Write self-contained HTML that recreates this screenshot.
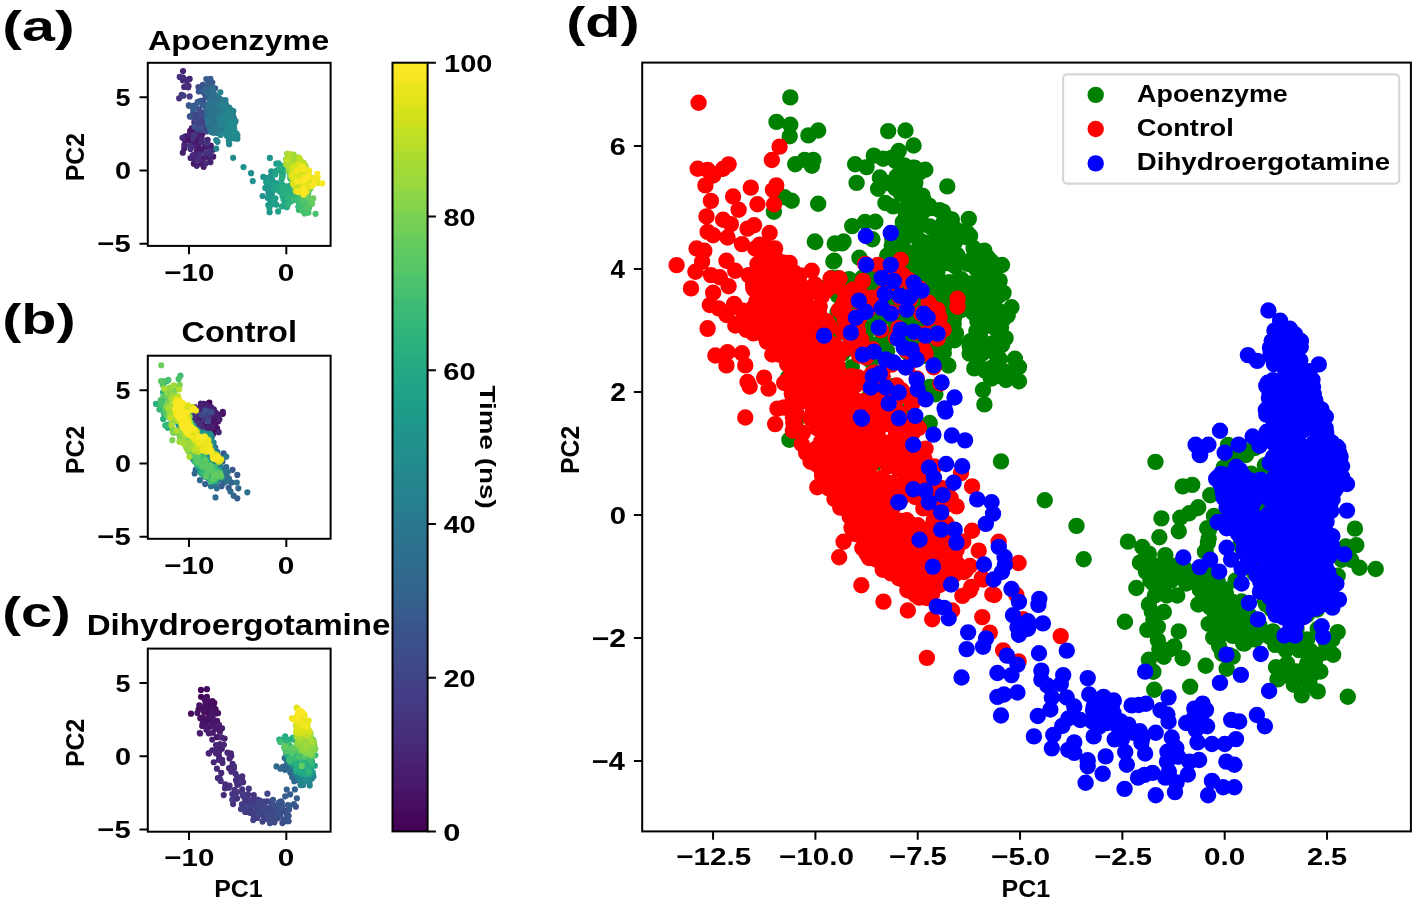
<!DOCTYPE html>
<html lang="en"><head><meta charset="utf-8"><title>PCA of MD trajectories</title>
<style>html,body{margin:0;padding:0;background:#fff}svg{display:block}text{font-family:"Liberation Sans",sans-serif;font-weight:bold;fill:#000}</style></head><body>
<svg width="1416" height="903" viewBox="0 0 1416 903" style="will-change:transform">
<rect width="1416" height="903" fill="#fff"/>
<g>
<path d="M197.33 121.01h0M207.44 127.2h0M201.02 119.34h0" stroke="#450457" stroke-width="6.2" stroke-linecap="round" fill="none"/>
<path d="M197.2 138.64h0M192 127.98h0M195.49 132.04h0M188.64 139.93h0" stroke="#471063" stroke-width="6.2" stroke-linecap="round" fill="none"/>
<path d="M191.65 141.96h0M198.3 147.65h0M193.82 163.71h0M195.42 141.51h0M202.23 133.93h0M190.17 130.86h0M185.14 140.99h0M212.96 149.66h0M201.9 150.11h0M207.82 147.75h0" stroke="#481668" stroke-width="6.2" stroke-linecap="round" fill="none"/>
<path d="M185.48 136.25h0M184.3 148.38h0M203.47 158.04h0M197.65 135.33h0M196.51 156.6h0M203.61 166.78h0M198.51 143.85h0M210.8 145.7h0M196.67 151.43h0M204.31 147.09h0M201.01 163.48h0M213.19 156.63h0" stroke="#481b6d" stroke-width="6.2" stroke-linecap="round" fill="none"/>
<path d="M182.8 152.64h0M196.77 165.79h0M195.5 124.25h0M210.43 162.13h0M208.56 157.52h0M189.66 134.31h0" stroke="#482071" stroke-width="6.2" stroke-linecap="round" fill="none"/>
<path d="M193.36 145.98h0M194.53 159.77h0M184.25 145.03h0M183.02 71.09h0M183.02 77.61h0M188.16 87.35h0M190.56 158h0M189.65 78.97h0M201.65 138.02h0M207.66 139.78h0M184.18 87h0" stroke="#482576" stroke-width="6.2" stroke-linecap="round" fill="none"/>
<path d="M210.37 154.49h0M192.84 155.06h0M182.88 80.35h0M187.32 80.14h0M201.95 141.83h0M197.58 130.84h0M194.28 122.19h0M205.03 113.66h0M205.81 163.25h0M182.47 137.81h0" stroke="#472a7a" stroke-width="6.2" stroke-linecap="round" fill="none"/>
<path d="M201.35 119.05h0M206.26 123.26h0M199.23 128.51h0M179.74 76.92h0M198.65 159.64h0M188.49 85.97h0M186.44 85.97h0M190.59 148.93h0M195.93 127.07h0M192.74 138.61h0M179.12 98.31h0M199.22 154.16h0M198.85 129.74h0" stroke="#472f7d" stroke-width="6.2" stroke-linecap="round" fill="none"/>
<path d="M201.78 112.76h0M200.44 130.28h0M200.88 126.07h0M189.98 145.5h0M194.04 135.47h0M207.32 143.55h0M201.67 122h0M209.66 151.04h0M205.18 153.29h0M193.48 109.98h0M198.4 125.48h0M205.43 129.59h0M188.96 105.53h0M197.17 123.9h0" stroke="#463480" stroke-width="6.2" stroke-linecap="round" fill="none"/>
<path d="M198.23 115.75h0M183.35 95.71h0M189.65 96.4h0M204.74 126.95h0M193.62 105.86h0M203.25 123h0M203.02 116.21h0M203.2 118.31h0M208.19 123.66h0M207.69 121.49h0M196.97 114.38h0M203.86 119.97h0" stroke="#443983" stroke-width="6.2" stroke-linecap="round" fill="none"/>
<path d="M195.34 105.86h0M203.8 124.71h0M181.64 94.88h0M190.2 116.48h0M192.94 114.1h0M205.13 118.33h0M199.28 117.9h0M194.87 116.12h0M199.63 119.88h0" stroke="#433e85" stroke-width="6.2" stroke-linecap="round" fill="none"/>
<path d="M198.14 121.72h0M200.09 123.07h0M194.28 114.08h0M206.04 131.52h0M206.43 127.39h0" stroke="#414287" stroke-width="6.2" stroke-linecap="round" fill="none"/>
<path d="M200.63 116.1h0M206.9 119.75h0M196.17 121.06h0M196.72 118.31h0M194.3 118.23h0M197.44 129.05h0M202.47 129.9h0" stroke="#3f4788" stroke-width="6.2" stroke-linecap="round" fill="none"/>
<path d="M208.18 126.11h0M200.18 114.03h0M198.43 87h0M199.45 109.29h0M206.94 115.57h0M203.23 100.72h0M201.16 87.69h0" stroke="#3e4c8a" stroke-width="6.2" stroke-linecap="round" fill="none"/>
<path d="M200.78 100.76h0M200.95 127.77h0M194.22 126.51h0M203.9 92.83h0M202.88 84.95h0" stroke="#3c508b" stroke-width="6.2" stroke-linecap="round" fill="none"/>
<path d="M209.06 93.61h0M205.63 96.24h0M205.11 85.69h0M198.79 91.45h0M208.8 83.85h0M215.12 88.33h0M189.9 116.47h0" stroke="#3a548c" stroke-width="6.2" stroke-linecap="round" fill="none"/>
<path d="M206.3 79.11h0M212.34 82.54h0M208.01 86.22h0M212.82 125.48h0M212.22 87.8h0M211.89 124.69h0M210.53 116.81h0M208.54 124.09h0M213.95 108.5h0M193.59 105.92h0M213.55 117.26h0M208.76 114.55h0M218.51 117.75h0" stroke="#38598c" stroke-width="6.2" stroke-linecap="round" fill="none"/>
<path d="M214.16 124.93h0M215.33 124.56h0M215.14 111.99h0M210.74 110.08h0M211.38 122.28h0M207.76 110.78h0M197.74 101.74h0M211.17 94.66h0M216.58 113.78h0M208.24 107.08h0M208.36 113.36h0M210.41 78.97h0M195.69 105.39h0M213.84 113.8h0M214.53 110.45h0M210.96 111.76h0M209.75 126.73h0M210.64 90.44h0M215.86 105.64h0M210.02 111.22h0M193.27 110.14h0M188.84 105.39h0M211.21 96.48h0M202.54 104.87h0M207.48 97.03h0M208.32 91.56h0M208 92.69h0M219.67 99.47h0" stroke="#365d8d" stroke-width="6.2" stroke-linecap="round" fill="none"/>
<path d="M210.11 87.28h0M206.67 111.88h0M208.09 109.48h0M211.97 93.01h0M211.57 98.54h0M213.44 98.97h0M207.22 85.43h0M217.96 124.03h0M211.93 107.99h0M215.41 116.61h0M208.15 122.21h0M212.75 91.5h0M208.27 89.91h0" stroke="#34618d" stroke-width="6.2" stroke-linecap="round" fill="none"/>
<path d="M212.55 87.81h0M213.83 127.45h0M219.81 126.41h0M206.63 117.63h0M208.43 124.83h0M206.16 91.5h0M204.32 90.18h0M211.89 89.84h0M214.45 94.48h0M210.75 131.69h0M220.22 100.96h0M213.89 94.79h0M215.7 129.27h0M210.37 125.98h0M207.66 113.87h0M209.09 112.15h0M214.53 126.17h0M206.64 110.17h0M208.24 116.32h0M207.14 106.39h0M212.95 111.67h0M212.96 112.03h0M217.93 107.91h0M214.4 98.48h0M213.88 105.16h0M216.08 108.41h0M211.09 120.87h0M210.51 111.54h0M210.21 113.64h0M212.53 112.22h0M217.67 130.39h0M213.09 108.6h0M218 119.17h0M210.09 113.16h0M211.82 112.32h0M209.84 129.22h0M220.42 115.36h0M215.33 96.72h0M209.96 94.22h0M209.94 108.99h0M214.32 120.76h0" stroke="#32658e" stroke-width="6.2" stroke-linecap="round" fill="none"/>
<path d="M211.52 93.28h0M207.55 112.17h0M209.32 125.53h0M209 93.27h0M210.2 120.85h0M218.28 104.65h0M212.18 108.15h0M213.12 97.55h0M216.04 96.87h0M212.51 125.59h0M208.85 111.14h0M216.87 115.8h0M220.06 101.97h0M210.49 98.89h0M212.63 119.46h0M215.03 108.61h0M209.77 100.8h0M214.94 130.28h0M219.43 100.92h0M210.35 126.32h0M207.38 114.65h0M211.58 129.7h0M206.53 116.64h0M216.27 120.7h0M208.77 120.06h0M212.2 111.51h0M210.69 111.32h0M213.23 122.09h0M213.45 96.87h0M217.33 108.12h0M209.58 102.34h0M211.71 100.55h0M210.56 98.06h0M209.32 109.82h0M214.65 95.28h0M207.29 104.88h0M206.06 108.74h0M209.66 127.85h0M209.74 127.17h0M211.4 100.18h0M219.56 121.49h0M209.75 119.52h0M207.17 113.05h0M208.96 118.85h0" stroke="#30698e" stroke-width="6.2" stroke-linecap="round" fill="none"/>
<path d="M210.42 124.12h0M211.27 125.73h0M209.27 124.59h0M212.83 103.45h0M220.85 104.54h0M210 101.48h0M215.34 118.51h0M218.18 115.36h0M213.27 99.24h0M218.43 104.31h0M218.54 125.52h0M213.78 99.79h0M210.39 127.39h0M212.8 117.07h0M212.73 126.63h0M212.71 122.39h0M212.91 128.91h0M216.52 114.74h0M211.85 131.12h0M207.73 124.11h0M215.14 132.64h0M212.03 129.79h0M212.58 101.5h0M215.06 112.37h0M216.43 125.88h0M210.69 118.6h0M211.83 128.64h0M214.08 123.7h0M216.47 97.46h0M211.2 96.44h0M218.33 122.14h0M221.68 115.9h0M215.84 107.15h0M230.21 115.38h0M218.13 116.36h0M228.85 113.29h0M209.09 122.82h0M213.65 132.71h0M219.09 124.83h0M217.59 132.46h0M213.71 89h0M216.18 101.8h0M217.92 125.39h0M218.64 107.9h0M213.91 99.9h0M219.52 131.88h0M210.11 118.8h0M221.46 104.35h0" stroke="#2e6d8e" stroke-width="6.2" stroke-linecap="round" fill="none"/>
<path d="M212.81 121.86h0M210.3 127.71h0M221.12 101.3h0M209.68 105.45h0M217.33 113.54h0M222.38 102.53h0M219.63 106.15h0M222.95 109.16h0M212.1 124.11h0M221.45 100.17h0M211.87 125.15h0M213.49 107.12h0M211.05 122.91h0M220.41 100.64h0M224.98 120.95h0M222.25 111.35h0M208.69 107.51h0M210.69 113.83h0M220.51 126.29h0M207.67 122.97h0M216.89 112.8h0M212.63 120.95h0M220.31 106.25h0M213.36 109.1h0M221.67 121.34h0M211.13 131.91h0M207.77 123.63h0M217.86 131.07h0M217.76 110.85h0M218.61 121.05h0M210.45 110.28h0M214.9 106.93h0M220.87 109.55h0M221.91 115.19h0M220.99 101.6h0M217.97 113.71h0M224.91 104.41h0M218.55 131.09h0M217.38 102.25h0M221.73 108.37h0M208.94 119.47h0M212.71 89.7h0M214.23 117.52h0" stroke="#2d718e" stroke-width="6.2" stroke-linecap="round" fill="none"/>
<path d="M214.34 112.44h0M218.52 97.95h0M219.57 130.57h0M215.28 107.75h0M222.6 102.88h0M218.06 112.34h0M212.9 114.28h0M217.32 119.12h0M217.79 119.18h0M212.94 118.69h0M225.76 104.07h0M214.7 128.35h0M215.09 109.51h0M215.85 115.83h0M214.03 116.63h0M216.82 111.47h0M217.29 115h0M225.48 116.74h0M229.58 116.68h0M229.94 109.16h0M216.32 116.45h0M220.78 115.11h0M221.08 120h0M214.43 131.4h0M232.25 125.09h0M223.71 121.73h0M217.17 108.74h0M222.72 108.63h0M227.09 111.78h0M229.05 113.62h0M222.55 114.92h0M221.82 110.87h0M218.72 119.35h0M219.35 98.3h0M223.72 114.39h0M219.42 106.76h0M220.31 99.8h0M216.9 108.56h0M217.43 127.74h0M213.06 125.29h0M222.54 118.84h0M222.43 127.28h0" stroke="#2b748e" stroke-width="6.2" stroke-linecap="round" fill="none"/>
<path d="M218.4 116.59h0M227.8 107.9h0M221.96 123.62h0M223.17 117.92h0M223.21 114.45h0M221.74 116.22h0M220.96 127.7h0M222.1 128.92h0M220.66 128.48h0M220.88 110.63h0M209.54 119.53h0M225.79 129.16h0M218.42 105.79h0M220.81 122.66h0M212.3 132.35h0M227.03 110.26h0M211.26 104.01h0M227.5 124.43h0M217.67 132.8h0M222.3 102.56h0M225.66 130.21h0M226.74 108.83h0M221.45 122.4h0M227.98 108.5h0M229.8 110.45h0M222.48 116.64h0M226.31 132.19h0M220.04 119.94h0M219.67 106.77h0M228.02 113.98h0M226.42 119.52h0M230.38 124.27h0M222.41 105h0M227.88 115.49h0M217.07 127.18h0M218.36 128.65h0M225.15 116.49h0" stroke="#2a788e" stroke-width="6.2" stroke-linecap="round" fill="none"/>
<path d="M230.73 115.46h0M225.26 103.49h0M223.68 103.04h0M226.6 106.94h0M231.83 121.19h0M218.47 126.9h0M226.09 129.11h0M227.25 111.75h0M220.79 125.39h0M232.62 118.3h0M223.33 117.12h0M233.81 123.77h0M218.94 118.7h0M221.88 124.95h0M229.18 107.57h0M233.14 125.81h0M232.4 134.24h0M233.72 117.64h0M228.52 122.26h0M222.11 116.38h0M231.44 113.09h0M225.11 110.72h0M229.56 131.12h0M225.47 100.02h0M229.12 108.83h0M226.27 130.61h0M226.8 111.02h0M227.27 126.73h0M229.48 130.6h0M232.59 133.02h0M223.05 116.7h0" stroke="#287c8e" stroke-width="6.2" stroke-linecap="round" fill="none"/>
<path d="M226.47 122.38h0M230 124.47h0M226.91 129.44h0M223.33 103.92h0M222.07 105.82h0M232.39 121.82h0M222.13 115.66h0M233.36 111h0M225.93 115.39h0M234.22 128.42h0M220.35 92.28h0M227.65 134.88h0M221.32 124.3h0M231.95 126.25h0M224.52 120.13h0M230.8 110.13h0M229.93 130.93h0M222.29 120.86h0M225.17 118.29h0M231.24 124.97h0M230.89 125.57h0M228.12 127.73h0M228.61 116.5h0" stroke="#27808e" stroke-width="6.2" stroke-linecap="round" fill="none"/>
<path d="M231.05 129.71h0M221.67 118.06h0M229.18 144.2h0M228.1 129.92h0M227.5 111.01h0M233.41 136.97h0M229.54 110.3h0M231.97 130.44h0M216.17 148.63h0M224.68 115.7h0M232.08 111.45h0M228.85 119.56h0M229.4 136.23h0M231.43 113.25h0M230.67 137.88h0M232.8 114.72h0M234.31 138.39h0M237.4 138.7h0M221.48 124.9h0M217.52 141.8h0M235.48 136.78h0M229.59 118.26h0M229.78 131.48h0M235.62 121.08h0" stroke="#25838e" stroke-width="6.2" stroke-linecap="round" fill="none"/>
<path d="M226.77 135.63h0M230.33 135.75h0M237.4 135.3h0M228.49 113.31h0M228.84 140.77h0M228.54 132.21h0M227.01 117.95h0M231.15 137.77h0M232.26 134.17h0M227.79 129.35h0M231.14 135.35h0M216.17 140.06h0M231.16 130.1h0M225.65 132.1h0M220.62 134.94h0M234.73 123h0M227.95 129.54h0M233.3 129.81h0" stroke="#24878e" stroke-width="6.2" stroke-linecap="round" fill="none"/>
<path d="M233.98 136.53h0M233.16 122.58h0M232.8 133.44h0M230.89 138.04h0M233.01 137.51h0M236.64 135.54h0M233.37 130.04h0M229.58 123.79h0M234.17 136.43h0M231.45 121.06h0M227.86 130.56h0M235.97 136.46h0M236.43 133.32h0M230.35 124.21h0M233.12 157.78h0" stroke="#228b8d" stroke-width="6.2" stroke-linecap="round" fill="none"/>
<path d="M243.54 167.04h0M251.08 173.14h0M252.79 181.1h0" stroke="#218f8d" stroke-width="6.2" stroke-linecap="round" fill="none"/>
<path d="M263.31 176.9h0M269.36 195.42h0M262.6 195.99h0M267.58 184.02h0M266.73 178.18h0" stroke="#20928c" stroke-width="6.2" stroke-linecap="round" fill="none"/>
<path d="M269.36 186.87h0M271.85 193.63h0M269 193.63h0M268.29 191.85h0M271.85 204.32h0M269.71 189.72h0M269.57 212.15h0M269.71 184.02h0M268.65 186.16h0M273.98 182.6h0M267.93 197.91h0M265.3 187.94h0M270.78 188.29h0M271.28 171.34h0M270.78 175.83h0M274.33 201.83h0M272.2 180.1h0M269.85 157.88h0M270.42 185.09h0" stroke="#1f968b" stroke-width="6.2" stroke-linecap="round" fill="none"/>
<path d="M266.16 181.88h0M270.78 202.54h0M268.29 179.75h0M271.49 182.6h0M267.44 180.82h0M270.42 197.2h0M272.56 189.72h0M270.42 200.4h0M272.91 184.38h0M277.89 170.13h0M276.82 183.31h0M268.29 205.03h0" stroke="#1f9a8a" stroke-width="6.2" stroke-linecap="round" fill="none"/>
<path d="M273.27 202.54h0M269.36 207.88h0M269 182.24h0M278.25 185.09h0M276.33 163.72h0M282.16 173.69h0M276.33 204.67h0M275.4 184.73h0" stroke="#1f9e89" stroke-width="6.2" stroke-linecap="round" fill="none"/>
<path d="M280.02 191.85h0M278.1 211.44h0M282.16 189.01h0M275.4 198.26h0M275.05 189.72h0M273.62 186.16h0M275.4 174.41h0M275.76 171.2h0M279.67 186.16h0M281.09 187.58h0M278.6 163.37h0M282.57 174.09h0M279.25 186.44h0M280.38 188.29h0" stroke="#1fa187" stroke-width="6.2" stroke-linecap="round" fill="none"/>
<path d="M285.71 203.61h0M280.02 168.71h0M288.2 199.33h0M286.6 189.28h0M283.93 193.99h0M277.18 186.87h0M281.8 179.03h0M283.58 196.13h0M282.51 184.73h0M282.87 165.86h0M282.51 176.19h0M285.36 191.14h0M286.42 188.29h0M281.62 179.32h0M288.91 186.16h0M284.65 189.36h0" stroke="#21a585" stroke-width="6.2" stroke-linecap="round" fill="none"/>
<path d="M287.49 203.96h0M285 201.83h0M285.36 198.98h0M289.56 171.91h0M292.37 178.18h0M291.73 173.02h0M289.76 172.83h0M293.64 183.01h0M295.42 185.21h0M292.34 175.1h0M290.48 178.48h0M281.09 190.43h0M287.85 192.57h0M283.58 199.69h0M292.74 178.54h0M281.8 206.45h0M283.76 170.77h0M290.45 173.33h0M286.78 207.17h0M287.13 190.79h0M292.67 173.17h0M296 180.13h0M282.51 196.48h0M286.42 196.84h0M289.44 193.56h0" stroke="#23a983" stroke-width="6.2" stroke-linecap="round" fill="none"/>
<path d="M293.18 199.69h0M282.87 192.57h0M283.93 186.87h0M279.97 168.87h0M283.28 187.39h0M284.65 186.16h0M286.07 194.7h0M295.42 185.61h0M295.71 176.68h0M294.14 184.95h0M289.62 198.98h0M287.49 197.55h0M288.91 195.42h0M293.88 174.57h0M291.84 175.18h0M292.14 172.69h0M295.5 178.75h0M292.33 172.51h0M292.27 176.05h0M290.69 201.11h0M292.18 177.82h0" stroke="#26ad81" stroke-width="6.2" stroke-linecap="round" fill="none"/>
<path d="M292.47 194.7h0M290.33 191.14h0M290.59 175.1h0M291.4 197.55h0M297.85 177.45h0M282.34 177.18h0M291.06 201.15h0M289.27 193.28h0M293.5 180.76h0M294.72 181.98h0M297.8 198.26h0M291.76 196.13h0M292.55 178.33h0M293.03 177.9h0M288.02 191.18h0M293.89 198.26h0" stroke="#2ab07f" stroke-width="6.2" stroke-linecap="round" fill="none"/>
<path d="M288.21 204.32h0M294.6 196.84h0M294.57 173.87h0M296.02 198.98h0M295.1 177.78h0M288.85 197.67h0M298.51 206.81h0M298.87 209.66h0M291.71 176.49h0M294.84 175.97h0M293.93 175.89h0M292.23 180.61h0M295.06 186.56h0M298.33 201.47h0" stroke="#2fb47c" stroke-width="6.2" stroke-linecap="round" fill="none"/>
<path d="M293.86 180.55h0M292.78 182.36h0M296.05 177.62h0M293.59 175.41h0M296.59 178.09h0M297.87 185.94h0M299.41 176.78h0M301.18 205.9h0M298.65 206.85h0M295.71 179.83h0M297.76 180.48h0M293.84 173.9h0M297.1 186.6h0M300.28 179.64h0" stroke="#35b779" stroke-width="6.2" stroke-linecap="round" fill="none"/>
<path d="M297.92 190.32h0M298.96 209.7h0M297.26 183.47h0M292.44 176.93h0M300.23 200.2h0M305.29 209.39h0M293.59 200.2h0M296.14 176.17h0M296.27 186.71h0M299.96 186.73h0M305.88 194.36h0M297.74 190.9h0M304.6 192.21h0M291.95 177.47h0M304.07 195.36h0M292.63 182.2h0M296.12 191.8h0M298.36 193.13h0M300.86 202.74h0M298.34 178.22h0M297.07 199.57h0M297.52 193.05h0" stroke="#3bbb75" stroke-width="6.2" stroke-linecap="round" fill="none"/>
<path d="M295.58 187.04h0M303.2 195.6h0M296.05 185.03h0M296.29 178.32h0M296.33 190.12h0M296.55 189.99h0M293.24 184.05h0M305.92 200.2h0M306.55 210.97h0M306.55 202.74h0M305.68 193.55h0M300.61 177.69h0M299.97 193.8h0M301.49 208.75h0M304.02 202.74h0M302.68 192.38h0M296.19 178.47h0M306.61 181.02h0M297.42 181.43h0M305.35 194.54h0M297.76 184.76h0M296.05 187.01h0M297.6 177.75h0M303.39 207.8h0M300.4 183.98h0M302.24 191.3h0" stroke="#42be71" stroke-width="6.2" stroke-linecap="round" fill="none"/>
<path d="M299.65 177.54h0M301.02 179.4h0M300.25 191.68h0M297.63 186.93h0M308.45 212.55h0M302.76 210.97h0M308.25 193.07h0M295.63 184.49h0M301.57 173.18h0M304.42 184.8h0M307.81 205.27h0M300.01 183.89h0M300.94 190.62h0M303.38 193.24h0M305.92 205.9h0M297.04 188.1h0M303.31 180.18h0M304.65 213.5h0M295.41 188.83h0M302.14 183.92h0M299.73 193.19h0M309.08 207.8h0M301.95 191.17h0M315.59 213.82h0M302.75 191.87h0M298.02 192h0M299.79 190.34h0M296.25 176.32h0M302.31 196.55h0" stroke="#4ac16d" stroke-width="6.2" stroke-linecap="round" fill="none"/>
<path d="M302.25 183.69h0M301.03 188.64h0M303.39 197.67h0M292.21 178.41h0M301.79 192.5h0M298.94 190.23h0M299.61 188.31h0M311.92 200.2h0M302.47 187.99h0M301.18 184.25h0M300.79 181.15h0M303.86 184.45h0M299.59 188.66h0M300.76 182.23h0M307.18 208.44h0M301.54 179.61h0M302.44 200.84h0M303.74 179.36h0M299.03 193.12h0" stroke="#52c569" stroke-width="6.2" stroke-linecap="round" fill="none"/>
<path d="M297.78 190.24h0M294.68 179.9h0M310.34 200.84h0M302.44 193.81h0M290.16 177.06h0M309.71 203.37h0M302.54 185.2h0M293.16 182.68h0M309.87 188.97h0M290.02 170.29h0M293.14 178.1h0M296.56 191.94h0M305.79 189.73h0" stroke="#5ac864" stroke-width="6.2" stroke-linecap="round" fill="none"/>
<path d="M302.51 190.87h0M300.51 184.88h0M302.95 191.61h0M301.46 186.94h0M302.8 194.57h0M303.52 194.05h0M296.97 188.24h0M308.61 190.39h0M297.1 186.82h0M306.26 188.05h0M294.92 180.89h0M306.52 178.47h0M294.2 170.9h0M293.93 178.9h0M312.11 203.81h0M300.21 182.9h0M293.38 175.78h0M295.25 180.32h0M301.3 191.98h0M308.74 185.89h0M308.45 197.67h0M303.84 184.87h0M302.97 171.36h0M301.85 188.61h0M298.27 182.75h0M302.28 178.47h0M306.01 170.11h0M308.32 177.88h0" stroke="#63cb5f" stroke-width="6.2" stroke-linecap="round" fill="none"/>
<path d="M292.77 175.02h0M293.02 173.81h0M296.77 178.18h0M301.2 173h0M290.14 171.3h0M291.42 174.98h0M302.61 185.24h0M313.19 198.43h0M298.94 171.62h0M302.79 183.92h0M310.41 184.61h0M292.28 181.69h0M298.08 182.71h0M306.91 172h0M294.34 169.33h0M295.25 178.91h0" stroke="#6ccd5a" stroke-width="6.2" stroke-linecap="round" fill="none"/>
<path d="M305.71 166.91h0M301.41 177.31h0M297.46 173.07h0M308.1 177.73h0M299.45 178.31h0M287.59 163.17h0M288.75 171.56h0M309.16 179.26h0M310.63 187.9h0M297.59 180.35h0M294.92 175.68h0M300.58 181.56h0M289.64 167.37h0" stroke="#75d054" stroke-width="6.2" stroke-linecap="round" fill="none"/>
<path d="M301.66 165.32h0M289.68 167.48h0M286.06 159.27h0M308.62 175.64h0M305.25 172.79h0M298.29 187.42h0M305.5 184.12h0M290.63 169.84h0M288.49 170.97h0M292.91 166h0M307.18 170.66h0M310.38 184.69h0" stroke="#7fd34e" stroke-width="6.2" stroke-linecap="round" fill="none"/>
<path d="M290.44 169.8h0M289.39 164.89h0M302.9 164.91h0M306.77 176.05h0M308.56 179.76h0M290.45 172.08h0M290.77 164.73h0M299.51 172.06h0M305.44 170.13h0" stroke="#89d548" stroke-width="6.2" stroke-linecap="round" fill="none"/>
<path d="M298.93 163.2h0M292.85 160.92h0M309.82 176.84h0M291.66 173.06h0M290.98 168.7h0M295.77 164.75h0M299.62 168.56h0M295.86 158.69h0M301.79 170.46h0M289.95 161.26h0" stroke="#93d741" stroke-width="6.2" stroke-linecap="round" fill="none"/>
<path d="M291.39 156.26h0M307.72 174.51h0M302.96 162.71h0M307.67 177.79h0M294.89 170.85h0M287.11 153.87h0M293.53 154.59h0M291.89 166.85h0M291.4 171.11h0M286.83 163.5h0M285.83 164.26h0M295.75 174.93h0M303.33 166.25h0M289.88 160.65h0M292.62 160.73h0" stroke="#9dd93b" stroke-width="6.2" stroke-linecap="round" fill="none"/>
<path d="M289.17 162.09h0M289.23 168.51h0M291.62 164.74h0M292.51 169.16h0M288.29 156.97h0M298.2 160.82h0M300.06 166.37h0M304.62 164.54h0M297.98 157.23h0" stroke="#a8db34" stroke-width="6.2" stroke-linecap="round" fill="none"/>
<path d="M289.96 154.11h0M310.64 180.44h0M298.32 161.68h0M301.24 162.06h0M298.57 158.19h0M289.73 159.96h0M308.81 178.07h0M301.73 167.58h0M288.06 165.03h0" stroke="#b2dd2d" stroke-width="6.2" stroke-linecap="round" fill="none"/>
<path d="M297.17 163.77h0M301.54 164.05h0M303.8 163.29h0M286.89 159.88h0M300.02 159.06h0M299.35 158.01h0" stroke="#bddf26" stroke-width="6.2" stroke-linecap="round" fill="none"/>
<path d="M294.46 170.92h0M292.73 171.62h0M299.46 183.89h0M293.68 169.34h0M294.32 184.83h0M297.68 179.06h0M298.01 184.36h0M305.82 170.94h0M292.64 178.08h0M306.38 182.74h0M292.73 167.4h0M297.56 173.5h0M299.03 186.34h0M293.1 182.63h0M297.77 175.71h0M294.21 166.31h0" stroke="#c8e020" stroke-width="6.2" stroke-linecap="round" fill="none"/>
<path d="M300.35 171.28h0M296.57 173.9h0M298.71 191.83h0M295.66 180.53h0M291.6 176.16h0M300.31 189.71h0M293.13 177.76h0M293.01 167.17h0M297.41 179.13h0" stroke="#d2e21b" stroke-width="6.2" stroke-linecap="round" fill="none"/>
<path d="M295.2 178.69h0M318.37 183.11h0M305.48 186.47h0M303.14 193.27h0M298.91 164.55h0M293.38 184.39h0M306.75 169.65h0M302.67 176.65h0M303.22 179.22h0M302.92 187.01h0M296.3 171.59h0M307.35 185.96h0M300.07 179.41h0M301.99 181.05h0M316.35 181.21h0" stroke="#dde318" stroke-width="6.2" stroke-linecap="round" fill="none"/>
<path d="M305.04 177.15h0M296.71 171.33h0M303.76 183.98h0M295.87 190.89h0M291.83 175.13h0M303.5 188.34h0M306.85 180.34h0M315.09 178.04h0M301.28 168.85h0M305.76 168.74h0M303.27 190.49h0" stroke="#e7e419" stroke-width="6.2" stroke-linecap="round" fill="none"/>
<path d="M307.61 177.84h0M298.06 191.85h0M302.8 166.42h0M297.42 170.09h0M310.81 186.27h0M317.61 177.72h0M314.14 181.21h0M302.51 189.19h0M309.27 170.96h0M306.52 191.67h0M311.92 178.04h0M303.56 170.04h0" stroke="#f1e51d" stroke-width="6.2" stroke-linecap="round" fill="none"/>
<path d="M302.86 180.46h0M308.14 175.86h0M322.23 183.42h0M317.3 173.8h0M304 190.5h0M305.74 178.34h0M304.51 178.12h0M313.19 185.01h0M297.38 181.39h0M303.82 188.75h0M303.67 194.6h0" stroke="#fbe723" stroke-width="6.2" stroke-linecap="round" fill="none"/>
</g>
<g>
<path d="M198.75 419.64h0M211.77 408.45h0M218.05 414.56h0M196.97 420.12h0M205.14 432.48h0M209.28 402.69h0M222.79 413.84h0M205.85 426.91h0M213.09 430.9h0M215.2 425h0" stroke="#450457" stroke-width="6.2" stroke-linecap="round" fill="none"/>
<path d="M197.22 422.81h0M198.56 416.24h0M204.84 430.07h0M200.02 411.08h0M196.22 423.84h0M202.64 411.71h0" stroke="#460a5d" stroke-width="6.2" stroke-linecap="round" fill="none"/>
<path d="M208.04 408.22h0M218.05 421.44h0M198.77 412.3h0M199.54 416.28h0M203.83 403.88h0M193.64 422.95h0M214.73 424.05h0M217.11 428.25h0M212.84 419.99h0M199.08 419.6h0M214.18 415.49h0M191.24 420.73h0M201.9 432.87h0" stroke="#471063" stroke-width="6.2" stroke-linecap="round" fill="none"/>
<path d="M212.11 424.57h0M196.99 423.15h0M213.91 409.56h0M213.23 434.01h0M209.75 406.25h0M222.79 411.95h0M197.34 419.33h0M215.95 416.76h0M200.01 424.95h0M202.62 423.95h0M195.75 412.76h0M215.29 420.33h0M218.07 420.66h0M191.64 417.28h0M210.46 424.15h0M210.46 434.97h0M197.95 409.73h0" stroke="#481668" stroke-width="6.2" stroke-linecap="round" fill="none"/>
<path d="M208.33 432.6h0M212.64 426.4h0M198.91 417.63h0M200.88 412.55h0M215.91 412.9h0M209.26 434.49h0M206.91 404.28h0M195.76 414.69h0M194.74 407.12h0M194.4 425.72h0M192.42 418.59h0" stroke="#481b6d" stroke-width="6.2" stroke-linecap="round" fill="none"/>
<path d="M218.52 416.46h0M202.32 429.95h0M210.88 428.06h0M195.94 416.84h0M211.17 407.44h0M207.11 427.63h0M219.47 419.3h0M200.27 407.67h0M200.82 403.63h0M198.04 417.97h0M204.84 406.65h0M199.1 430.61h0M199.36 421.54h0M199.89 421.75h0M194.57 414.63h0M192.46 422.55h0" stroke="#482071" stroke-width="6.2" stroke-linecap="round" fill="none"/>
<path d="M218.71 432.13h0M204 429.71h0M205 430.49h0M191.69 419.38h0" stroke="#482576" stroke-width="6.2" stroke-linecap="round" fill="none"/>
<path d="M201 425.92h0M202.89 429.51h0M190.48 411.4h0M199.4 425.47h0M195.44 419.68h0M208.71 418.93h0" stroke="#472a7a" stroke-width="6.2" stroke-linecap="round" fill="none"/>
<path d="M210.67 414.04h0M198.99 423.34h0M192.96 424.1h0M189.89 415.41h0M199.5 424.3h0M190 413.84h0M195.46 413.92h0" stroke="#472f7d" stroke-width="6.2" stroke-linecap="round" fill="none"/>
<path d="M204.6 419.42h0" stroke="#463480" stroke-width="6.2" stroke-linecap="round" fill="none"/>
<path d="M207.21 415.28h0" stroke="#443983" stroke-width="6.2" stroke-linecap="round" fill="none"/>
<path d="M204.83 414.07h0M201.36 414.78h0" stroke="#3f4788" stroke-width="6.2" stroke-linecap="round" fill="none"/>
<path d="M209.11 411.7h0M211.53 412.03h0M208.11 421.17h0" stroke="#3e4c8a" stroke-width="6.2" stroke-linecap="round" fill="none"/>
<path d="M205.13 410.47h0" stroke="#3c508b" stroke-width="6.2" stroke-linecap="round" fill="none"/>
<path d="M207.25 471.25h0M212.84 482.52h0M202.13 472.56h0M203.68 473.61h0" stroke="#3a548c" stroke-width="6.2" stroke-linecap="round" fill="none"/>
<path d="M220.06 476.42h0M202.61 471.89h0M210.89 477.4h0M232.57 469.82h0M207.32 472.34h0M237.31 474.89h0M214.36 480.15h0M223.61 453.47h0M209.37 471.3h0M210.55 476.8h0M223.95 482.71h0M217.6 478.19h0M228.57 478.44h0M216.7 468.57h0M224.14 469.82h0M215.06 476.1h0M201.67 471.98h0" stroke="#38598c" stroke-width="6.2" stroke-linecap="round" fill="none"/>
<path d="M212.29 481.75h0M214.97 473.35h0M205 475.77h0M215.47 483.2h0M224.67 476.68h0M237.31 498.31h0M212.21 472.76h0M221.51 474.04h0M206.99 477.35h0M210.96 478.88h0M225.73 475.59h0M213.56 472.19h0M216.31 475.46h0M215.14 472.03h0M211.99 479.22h0M216.2 472.96h0M215.18 447.66h0M221.51 486.18h0M216.72 470.4h0M210.11 476.71h0M209.3 474.69h0" stroke="#365d8d" stroke-width="6.2" stroke-linecap="round" fill="none"/>
<path d="M220.45 457.16h0M231.52 482.49h0M213.27 477.94h0M205.01 476.48h0M217.93 478.6h0M216.21 474.14h0M205.85 474.56h0M222.56 461.38h0M212.82 475.03h0M219.02 471.98h0M212.54 481.07h0M228.67 487.76h0M222.31 474.77h0M205.18 484.07h0M211.38 480.54h0" stroke="#34618d" stroke-width="6.2" stroke-linecap="round" fill="none"/>
<path d="M216.73 482.26h0M226.08 480.57h0M208.98 475.88h0M231.06 482.35h0M206.61 476.6h0M238.36 488.29h0M233.62 495.68h0M215.1 472h0M195.69 469.82h0M217.55 468.06h0M220.45 466.66h0M216.4 469.7h0M215.48 476.11h0M194.64 473.52h0M215.24 476.52h0M212.66 475.06h0M213.7 483.12h0" stroke="#32658e" stroke-width="6.2" stroke-linecap="round" fill="none"/>
<path d="M204.52 473.25h0M217.12 476.37h0M211.3 471.04h0M230.46 491.46h0M218.33 469.48h0M216.46 473.54h0M226.25 467.19h0" stroke="#30698e" stroke-width="6.2" stroke-linecap="round" fill="none"/>
<path d="M199.91 480.16h0M215.5 497.47h0M209.34 472.02h0M208.77 477.36h0M201.19 472.7h0" stroke="#2e6d8e" stroke-width="6.2" stroke-linecap="round" fill="none"/>
<path d="M247.32 492.3h0M222.09 473.24h0M228.88 478.79h0M222.88 475.23h0M227.83 471.93h0M217.41 472.99h0M210.97 486.18h0M216.77 488.29h0M217.29 451.88h0M206.27 475.21h0M236.78 482.49h0M216.72 480.63h0M208.13 477.7h0M224.31 477.01h0M225.72 481.43h0M211.57 480.33h0M220.86 478.2h0" stroke="#2d718e" stroke-width="6.2" stroke-linecap="round" fill="none"/>
<path d="M211.32 471.84h0M226.25 456.63h0M214.09 470.79h0M213.45 476.15h0M212.69 479.79h0M217.82 460.33h0M215.73 478.51h0M220.1 465.33h0M217.12 464.72h0M221.01 470.73h0M210.98 473.26h0M222.58 471.75h0M214.42 482.28h0M221.99 473h0M222.13 477.6h0M216.25 471.21h0M208.83 478.52h0M205.08 470.1h0M216.82 478.05h0M207.48 459.28h0M220.21 477.62h0M220.51 458.66h0M219.68 478.27h0M212.15 481.91h0M218.56 478.27h0M218.59 471.9h0M202.16 459.84h0M216.56 471.68h0M219.78 459.93h0M216.65 468.65h0M208.06 472.74h0M209.76 478.32h0M213.57 468.9h0M218.62 466.54h0M208.96 464.78h0M200.2 463.05h0M213.59 448.37h0M217.26 475.83h0M202.81 439.98h0M218.87 471.63h0M195.87 455.12h0M196.11 458.77h0" stroke="#2b748e" stroke-width="6.2" stroke-linecap="round" fill="none"/>
<path d="M221.71 472.77h0M218.47 478.7h0M203.28 470.02h0M197.58 466.5h0M204.34 464.8h0M203.01 435.15h0M217.98 477.37h0M208.53 447.6h0M215.39 472.04h0M203.77 472.49h0M202.57 450.71h0M217.75 465.27h0M218.41 468.42h0M202.68 463.12h0M212.99 470.17h0M204.26 462.74h0M200.14 471.31h0M214.66 461.87h0M185.11 434.83h0M194.05 459.06h0M210.3 454.32h0" stroke="#2a788e" stroke-width="6.2" stroke-linecap="round" fill="none"/>
<path d="M221.46 477.11h0M205.27 468.98h0M215.13 470.29h0M192.29 456.02h0M211.25 469.75h0M215.79 451.74h0M212.7 466.92h0M206.69 451.5h0M194.2 457.46h0M209.29 470.29h0M211.41 456.01h0M218.53 480.13h0M197.4 457.06h0M209.21 458.7h0M210.06 456.33h0M215.13 473.84h0M217.6 472.38h0M209.99 473.76h0M219.56 470.71h0M213.2 470.89h0M211.96 437.07h0M215.57 454.59h0M217.41 474.14h0" stroke="#287c8e" stroke-width="6.2" stroke-linecap="round" fill="none"/>
<path d="M197.77 444.81h0M191.03 449h0M199.94 445.08h0M217.81 458.83h0M214.89 450.04h0M220.83 474.26h0M199.31 445.61h0M198.46 467.97h0M207.19 450.71h0M209.47 468.98h0M209.28 448.14h0M209.41 459.43h0M183.56 412.22h0M215.53 459.18h0M197.76 466.86h0M203.19 461.69h0M209.75 458.48h0M209.41 457.39h0M198.48 432.61h0M208.8 476.82h0M186.76 436.36h0M218.1 475.61h0M210.73 455.87h0M200.7 468.22h0M193.52 459.65h0M208.54 440.14h0M204.1 459.11h0M199.52 445.72h0M198.62 458.58h0M213.35 465.88h0M212.98 451.92h0M203.21 457.97h0M217.76 462.4h0M208.15 443.83h0" stroke="#27808e" stroke-width="6.2" stroke-linecap="round" fill="none"/>
<path d="M203.51 474.11h0M186.75 436.28h0M213.59 442.72h0M204.84 454.57h0M219.49 465.98h0M192.18 457.14h0M200.55 458.6h0M217.15 459.1h0M194.24 449.6h0M197.25 452.66h0M197.42 442.99h0M199.01 445.92h0M201.68 455.6h0M208.71 452.64h0M212.71 459.14h0M196.14 449.73h0M193.61 443.05h0M198.44 464.71h0M215.66 452.08h0M217.78 464.56h0M197.86 466.79h0M203.85 460.42h0M199.79 457.95h0M189.74 440.63h0M192.9 443.24h0M194.01 458.48h0M200.3 436.37h0M205.62 459.29h0M210.26 473.64h0M202.67 434.9h0M194.72 449.64h0M212.12 443.93h0M201.01 456.46h0M191.14 440.51h0M194.31 451.88h0M209.51 442.64h0M188.59 435.67h0M198.07 453.1h0M197.09 445h0M190.78 436.54h0M214.4 452.42h0M217.68 459.32h0M206.83 446.42h0" stroke="#25838e" stroke-width="6.2" stroke-linecap="round" fill="none"/>
<path d="M201.36 471.14h0M205.11 446.81h0M201.93 451.23h0M185.46 435.25h0M204.64 437.69h0M213.02 452.71h0M216.18 477.55h0M207.5 450h0M198.4 442.42h0M204.48 445.78h0M197.17 447.44h0M208.19 442.81h0M194.74 448.09h0M206.84 455.86h0M212.23 456.43h0M213.53 467.16h0M202.42 454.56h0M213.02 447.58h0M209.29 466.15h0M220.31 469.73h0M200.53 454.72h0M204.49 446.45h0M193.8 459.73h0M203.41 448.54h0M192.38 436.69h0M197.44 440.74h0M203.38 442.19h0M201.4 444.7h0M197.67 442.26h0M202.08 451.73h0M193.83 445.2h0M199.11 446.58h0M184.51 433.97h0" stroke="#24878e" stroke-width="6.2" stroke-linecap="round" fill="none"/>
<path d="M211.07 449h0M211.52 441.21h0M201.29 437.1h0M194.27 441.31h0M211.12 450.01h0M202.68 463.58h0M180.63 425.3h0M201.22 444.92h0M183.73 441.5h0M190.33 446.45h0M199.06 465.34h0M201.33 446.29h0M210.73 464.68h0M204.77 447.93h0M198.22 449.82h0M218.87 456.99h0M197.33 448.89h0M212.67 458.03h0M206.37 436.9h0M184.17 423.22h0M199.47 444.16h0M186.78 422.92h0M206.72 439.28h0M202.3 436.43h0M193.8 454h0M208.17 474.17h0M186.78 434.4h0M205.42 441.86h0M188.75 428.92h0M194.7 454.65h0M203.45 440.08h0M212.57 452.13h0M201.14 446.28h0M193.05 439.75h0M210.4 434.72h0M191.75 437.83h0" stroke="#228b8d" stroke-width="6.2" stroke-linecap="round" fill="none"/>
<path d="M203.04 432.53h0M192.4 444.93h0M194.27 457.9h0M199.56 443.68h0M206.98 436.17h0M207.85 442.72h0M186.41 434.79h0M187.85 431.5h0M184.06 441.8h0M191.33 422.88h0M178.15 419.18h0M192.81 445.81h0M203.79 443.69h0M189.27 428.8h0M189.41 414.67h0M188.43 439.85h0M193.96 428.08h0M192.69 443.38h0M204.6 435.16h0M190.07 423.09h0M188.35 419.79h0M192.81 442.87h0M198.38 435.96h0M201.6 448.44h0M209.94 442.51h0" stroke="#218f8d" stroke-width="6.2" stroke-linecap="round" fill="none"/>
<path d="M184.8 411.35h0M185.63 415.56h0M187.03 415.94h0M188.35 438.79h0M201.59 440.91h0M199.78 451.45h0M204.46 438.56h0M208.77 439.06h0M209.52 433.74h0M193.63 426.86h0M195.9 433.88h0M205.66 457.54h0M194.12 447.77h0M193.6 429.01h0M179.16 422.02h0M192.13 442.54h0M185.97 435.67h0M178.4 421.18h0M178.73 425.22h0M184.46 439.23h0M188.99 437.2h0M188.41 426.59h0M183.69 412.77h0M195.13 430.57h0M189.09 428.08h0M207.37 441.41h0M208.39 435.7h0M198.67 444.07h0M198.07 430.49h0M197.68 444.47h0M202.71 456.07h0M203.1 437.96h0" stroke="#20928c" stroke-width="6.2" stroke-linecap="round" fill="none"/>
<path d="M191.71 427.95h0M198.26 432.27h0M197.58 441.19h0M200.89 442.13h0M177.59 413.54h0M182.68 431.02h0M205.16 437.73h0M207.76 435.36h0M193.99 436.69h0M172.6 419.35h0M204.71 434.85h0M190.57 422.72h0M183.18 428.56h0M175.06 406.03h0M184.84 425.84h0M188.87 408.52h0M178.54 404.91h0M196.01 433.81h0M186.92 421.35h0M187.05 429.3h0M188.67 441.02h0M177.48 422.17h0M194.27 428h0" stroke="#1f968b" stroke-width="6.2" stroke-linecap="round" fill="none"/>
<path d="M174.51 416.05h0M185.41 415.98h0M202.15 439.43h0M205.47 433.78h0M183.21 432.84h0M203.55 439.01h0M185.96 413.16h0M184.1 421.11h0M187.6 421.69h0M178.97 407.22h0M189.47 417.95h0M177.64 415.46h0M189 420.8h0M210.33 444.25h0M179.64 412.8h0M201.43 443.84h0M208.53 447.23h0M184.46 409.43h0M173.56 418.39h0M191.49 430.02h0M180.7 404.93h0M180.23 424.75h0M207.12 436.16h0M197.56 430.42h0M179.41 416.06h0M187.81 418.02h0M184.39 407.85h0" stroke="#1f9a8a" stroke-width="6.2" stroke-linecap="round" fill="none"/>
<path d="M206.48 437.98h0M192.05 431.08h0M179.59 415.29h0M182.97 419.86h0M189.14 409.9h0M174.93 412.54h0M177.44 418.29h0M185.4 419.62h0M183.93 430.88h0M184.53 415.81h0M181.21 416.94h0M178.89 420.08h0" stroke="#1f9e89" stroke-width="6.2" stroke-linecap="round" fill="none"/>
<path d="M174.06 414.22h0M184.58 412.81h0M179.48 418.88h0M187.75 430.79h0M193.42 425.72h0M184.55 412.28h0M178.69 417.87h0M186.41 420.59h0M174.43 409.72h0M183.99 418.88h0M186.59 410.09h0M186.2 416.15h0M182.27 410.42h0M183.89 421.72h0M177.67 417.63h0M187.13 410.11h0M181.43 416.7h0M181.38 405.52h0M182.44 418.9h0M178.34 404.35h0M186.84 411.14h0M178.87 412.81h0" stroke="#1fa187" stroke-width="6.2" stroke-linecap="round" fill="none"/>
<path d="M208.42 466.97h0M201.93 461.14h0M209.13 477.16h0M202.66 460.94h0M189.29 451.41h0M197.41 453.8h0M200.35 471.54h0M203.72 460.17h0M215.41 478.67h0M209.21 470.05h0M218.46 475.14h0M209.78 478.87h0M218.25 470.4h0M198.06 466.14h0" stroke="#21a585" stroke-width="6.2" stroke-linecap="round" fill="none"/>
<path d="M216.68 471.52h0M213.15 481.17h0M206.02 476.47h0M206.66 464.16h0M200.91 454.81h0M201.75 473.69h0M199.69 458.49h0M163.36 419.11h0" stroke="#23a983" stroke-width="6.2" stroke-linecap="round" fill="none"/>
<path d="M215.51 481.45h0M191.73 451.15h0M199.72 459.01h0M201.64 457.82h0M164.15 406.31h0M193.8 453.99h0M211.79 477.33h0M204.09 473.67h0M202.21 460.46h0M162.57 400.51h0M215.13 479.79h0M198.12 455.73h0M207.56 461.4h0M214.4 472.23h0M164.67 396.82h0M205.33 474.68h0" stroke="#26ad81" stroke-width="6.2" stroke-linecap="round" fill="none"/>
<path d="M155.98 403.94h0M209.84 478.47h0M163.09 392.33h0M217 476.15h0M167.83 427.82h0M190.57 454.02h0M211.81 474.36h0M216.87 477.09h0M163.36 418.97h0M197.14 463.83h0M204.86 471.48h0M201.95 463.53h0M168.1 424.65h0M193.45 454.24h0M199.17 461.66h0M197.85 454.07h0M211.36 465.44h0M196.88 462.01h0" stroke="#2ab07f" stroke-width="6.2" stroke-linecap="round" fill="none"/>
<path d="M199.78 453.94h0M211.68 468.22h0M205.32 464.94h0M216.06 475.02h0M205.95 471.35h0M206.69 470.1h0M205.91 465.99h0M211.85 473.39h0M220.03 475.48h0" stroke="#2fb47c" stroke-width="6.2" stroke-linecap="round" fill="none"/>
<path d="M216.75 475.75h0M213.57 473.1h0M206.07 467.44h0M165.2 425.44h0M195.37 451.74h0M212.61 472.39h0M211.24 474.51h0M215.1 472.23h0M194.91 461.69h0M163.88 413.43h0M206.27 465.14h0M159.41 409.48h0M202.76 472.2h0M215.13 467.01h0M164.67 382.57h0M167.04 380.99h0" stroke="#35b779" stroke-width="6.2" stroke-linecap="round" fill="none"/>
<path d="M204.85 465.76h0M197.02 452.3h0M199.12 457.75h0M214.87 474.38h0M198.89 465.25h0M210.85 481.38h0M199.93 457.12h0M216.01 477.83h0M217.08 471.22h0M199.77 453.62h0M221.53 476.76h0" stroke="#3bbb75" stroke-width="6.2" stroke-linecap="round" fill="none"/>
<path d="M210.35 465.33h0M197.41 462.67h0M204.75 460.49h0M203.64 457.28h0M160.46 405.52h0M195.82 450.17h0M216.03 478.14h0M180.47 375.72h0" stroke="#42be71" stroke-width="6.2" stroke-linecap="round" fill="none"/>
<path d="M211.06 470.52h0M220.57 476.45h0M217.07 475.37h0M162.04 403.15h0M191.49 449.33h0M221.04 476.14h0M214.72 471.02h0M206.15 475.29h0M199.51 461.18h0M194.77 455.84h0M200.08 462.99h0M163.36 381.26h0M208.24 468.51h0M160.72 399.98h0M178.63 378.88h0M168.36 379.94h0" stroke="#4ac16d" stroke-width="6.2" stroke-linecap="round" fill="none"/>
<path d="M164.67 410.53h0M193.28 456.26h0M162.83 384.95h0M207.72 469.94h0M202.19 461.25h0M202.39 464.04h0M220.04 472.81h0M212.15 467.52h0M201.18 462.2h0M218.33 475.22h0M165.99 414.22h0M207.22 472.2h0" stroke="#52c569" stroke-width="6.2" stroke-linecap="round" fill="none"/>
<path d="M210.28 470.56h0M160.99 380.99h0M163.36 396.02h0M190.56 453.4h0M212.8 479.57h0M216.08 477.86h0M219.52 474.22h0M205.64 460.17h0M202.4 466.75h0M206.25 476.43h0M197.71 455.45h0M206.36 465.04h0M196.65 461.51h0M210.3 465.51h0M213.83 474.69h0M206.23 466.54h0" stroke="#5ac864" stroke-width="6.2" stroke-linecap="round" fill="none"/>
<path d="M214.85 474.09h0M220.57 475.44h0M190.71 424.24h0M196.54 435.43h0M175.46 408.92h0" stroke="#63cb5f" stroke-width="6.2" stroke-linecap="round" fill="none"/>
<path d="M195.86 444.26h0M198.71 439.54h0M175.98 416.37h0M168.1 397.34h0M184.69 433h0M179.05 416.09h0M178.38 407.08h0M186.53 435.2h0M178.6 420.77h0M187.12 423.93h0M186.33 424.87h0M187.87 440.5h0M196.53 447.67h0M180.09 415.13h0M175.9 411.44h0M181.76 409.04h0M190.41 422.29h0M197.23 438.25h0M180.79 415.39h0M161.21 365.26h0M183.5 434.15h0M193.81 446.45h0M190.1 427.31h0" stroke="#6ccd5a" stroke-width="6.2" stroke-linecap="round" fill="none"/>
<path d="M174.42 394.44h0M175.21 389.43h0M195.54 451.69h0M179.95 438.1h0M196.57 438.31h0M175.79 415.56h0M173.36 432.83h0M176.8 414.06h0M184.85 424.88h0M179.68 384.95h0M176.97 404.97h0M183.69 416.85h0M176.45 412.95h0M190.58 427.38h0M187.97 421.53h0M193.31 448.5h0M181.86 411.86h0M168.89 394.18h0M174.96 417.87h0M178.13 413.13h0M185.52 417.3h0M178.37 404.73h0M199.21 451.1h0M167.83 415.81h0M192.15 439.75h0M186.2 417.57h0M177.14 414.58h0M167.83 402.88h0M200.18 445.94h0M194.93 438.07h0M178.9 418.98h0M182.28 427.53h0" stroke="#75d054" stroke-width="6.2" stroke-linecap="round" fill="none"/>
<path d="M197.34 449.14h0M192.83 444.96h0M198.3 451.97h0M181 406.84h0M199.71 450.82h0M181.01 417.54h0M174.22 420.18h0M172.84 431.77h0M189.25 426.41h0M186.16 426.87h0M192.49 448.8h0M201.88 446.84h0M181.53 437.84h0M186 443.91h0M172.31 427.82h0M170.73 390.75h0M172.31 440.21h0M177.84 433.36h0M178.89 386h0M185.46 408.55h0M178.3 408.99h0" stroke="#7fd34e" stroke-width="6.2" stroke-linecap="round" fill="none"/>
<path d="M167.04 393.12h0M183.85 410.85h0M191.61 431.62h0M166.25 406.84h0M186.86 429.81h0M181.57 432.02h0M187.85 450.76h0M197.39 447.22h0M194 450.8h0M200.83 442.79h0M194.67 433.27h0M186.35 411.66h0M182.56 424.18h0M177.15 407.48h0M182.2 409.39h0M173.1 416.33h0M197.32 443.23h0M185.74 446.54h0M183.63 440.21h0M190.54 442.92h0M196.23 447.68h0M189.03 416.27h0M186.05 434.56h0M184.38 417.28h0M169.94 418.32h0M175.56 406.35h0" stroke="#89d548" stroke-width="6.2" stroke-linecap="round" fill="none"/>
<path d="M176.02 418.61h0M175.39 411.98h0M200.21 438.98h0M192.99 432.72h0M177.52 420.45h0M175.3 413.52h0M189.58 416.66h0M183.6 437.63h0M178.42 413.45h0M189.17 447.6h0M195.79 434.69h0M177.05 421.01h0M182.21 423.29h0M184.06 423.45h0M203 444.05h0M203.58 442.38h0M179.41 419.62h0M197.39 442.47h0M189.35 442.79h0M186.79 448.65h0M191.34 429.64h0M195.91 448.11h0M169.41 387.58h0M183.59 435.28h0M198.1 437.68h0M183.28 416.96h0M200.48 439.61h0M200.37 444.98h0M184.14 406.93h0M188.31 427.77h0M179.35 417.62h0M169.68 413.17h0" stroke="#93d741" stroke-width="6.2" stroke-linecap="round" fill="none"/>
<path d="M184.57 427.6h0M173.63 385.47h0M189.03 421.22h0M192.43 430h0M199.84 437.98h0M190.58 424.93h0M192.75 447.87h0M193.94 430.78h0M198.26 443.52h0M176.32 410.73h0M169.94 405.26h0M191.99 448.56h0M189.27 442.38h0M174.15 408.42h0M196.05 438.33h0M174.59 406.71h0M193.28 438.51h0M183.36 434.54h0M187.77 419.83h0M185.37 433.45h0M179.42 441.8h0M186.89 416.43h0M173.58 417.05h0M172.84 395.23h0M193.91 450.59h0M175.21 412.9h0M190.33 445.93h0" stroke="#9dd93b" stroke-width="6.2" stroke-linecap="round" fill="none"/>
<path d="M183.84 405.61h0M171.52 414.75h0M168.36 408.95h0M180.32 410h0M194.89 438.17h0M184.22 431.8h0M164.15 388.64h0M171.52 398.93h0M185.31 434.01h0M194.19 442.03h0M195.73 436.7h0M183.63 443.38h0M180.39 406.91h0M182.43 416.56h0M189.43 456.83h0M191.35 433.57h0M176.33 409.29h0M199.82 437.58h0M182.32 423.35h0M193.3 442.29h0" stroke="#a8db34" stroke-width="6.2" stroke-linecap="round" fill="none"/>
<path d="M177.26 420.37h0M200.3 448.29h0M187.87 428.93h0M181.3 416.92h0M186.34 417.91h0M176.02 415.31h0M175.21 403.67h0M190.29 430.38h0M199.8 444.56h0M176.13 415.16h0M197.98 439.82h0M176.79 430.72h0M171.52 424.92h0M180.33 414.5h0M174.68 399.98h0M178.93 413.85h0M198.77 440.04h0M179.66 411.8h0M198.04 451.71h0M173.1 406.31h0M176.79 406.84h0M174.19 409.34h0M179.16 389.43h0M182.74 406.28h0" stroke="#b2dd2d" stroke-width="6.2" stroke-linecap="round" fill="none"/>
<path d="M182.67 415.74h0M181.07 419.83h0M175.5 405.83h0M194.81 449.41h0M186.78 414.37h0M170.47 417.92h0M187.62 434.76h0M187.5 433.45h0M201.39 444.6h0M187.22 428.25h0M215.96 456.91h0M182.67 420.18h0M214.58 454.66h0M178.1 396.29h0M180.44 406.46h0M186.54 425.68h0M194.67 429.92h0M211.86 451.65h0M203.58 450.27h0M213.5 458.72h0" stroke="#bddf26" stroke-width="6.2" stroke-linecap="round" fill="none"/>
<path d="M185.62 427.35h0M215.73 454.54h0M201.53 440.93h0M210.78 449.74h0M188.92 427.03h0M191.73 432.81h0M205.71 448.71h0M209.71 448.45h0M207.21 445.87h0M180.81 412.94h0M199.38 439.27h0M202.49 440.73h0M187.22 427.49h0M181.33 413.94h0M217.17 458.66h0M183.64 423.72h0M182.82 406.69h0M186.05 424.05h0M220.31 460.78h0M212.75 453.74h0M202.58 443.79h0M187.25 423.76h0M194.92 430.21h0M195.78 437.33h0M205.33 440.2h0M208.39 447.76h0M181.41 425.29h0M207.18 448.47h0M181.43 419.06h0M197.35 438.86h0M184.77 428.9h0M181.66 409.54h0" stroke="#c8e020" stroke-width="6.2" stroke-linecap="round" fill="none"/>
<path d="M218.84 461.69h0M188.05 429.66h0M199.88 447.75h0M183.38 411.07h0M175.72 399.04h0M186.76 421.98h0M188.56 420.97h0M216.43 459.67h0M212.76 453.62h0M188.06 425.62h0M177.26 409.38h0M182.13 406.54h0M198.34 444.27h0M201.36 439.71h0M184.93 426.71h0M193.95 435.36h0M193.01 435.2h0M200.06 441.25h0M189.73 426.2h0M188.81 422.39h0M192.59 407.1h0M181.8 420.28h0M175.52 410.12h0M193.13 431.51h0M212.75 453.63h0M198.55 442.7h0M186.68 425.17h0" stroke="#d2e21b" stroke-width="6.2" stroke-linecap="round" fill="none"/>
<path d="M190.4 427.36h0M187.78 418.34h0M192.66 430.12h0M213.19 457.03h0M216.81 455.33h0M216.83 459.39h0M196.01 410.53h0M196.73 431.53h0M185.52 420.87h0M207.85 439.47h0M188.42 424.38h0M175.5 409.47h0M176.63 408.53h0M197.63 437.36h0M206.28 451.83h0M188.11 405.26h0M217.94 460.2h0M176 409.66h0M204.98 436.56h0M203.46 438.18h0M177.02 406.26h0M179.78 405.82h0M175.19 410.23h0M185.21 406.31h0M202.13 445.98h0M202.28 448.32h0M185.54 410.64h0M195.68 440.99h0M179.97 402.7h0" stroke="#dde318" stroke-width="6.2" stroke-linecap="round" fill="none"/>
<path d="M176.11 412.14h0M184.49 413.37h0M179.42 399.98h0M180.39 407.56h0M194.78 429.61h0M191.77 436.37h0M202.39 440.03h0M176.89 405.72h0M180.04 404.03h0M204.15 438.5h0M204.6 447.5h0M182.84 403.41h0M177.67 399.84h0M199.56 437.96h0M217.31 456.65h0M179.14 404.51h0M221.17 459.46h0M181.34 418.25h0M176.11 413.83h0" stroke="#e7e419" stroke-width="6.2" stroke-linecap="round" fill="none"/>
<path d="M185.77 431.13h0M212.92 457.56h0M208.38 440.68h0M209.66 445.59h0M180.96 410.26h0M214.63 456.61h0M184.45 418.46h0M182.97 414.06h0M194.55 429.9h0M179.66 408.23h0M202.34 443.37h0M182.75 424.93h0M183.68 419.86h0M200.29 439.43h0M186.46 418.84h0M180.31 420.08h0M202.73 450.3h0M184.1 428.54h0M214.5 457.24h0M204.18 438.01h0M199.14 443.18h0M217.24 457.87h0M198.76 436.47h0M199.82 439.58h0M178.84 410.65h0M189.49 435.18h0M208.83 448.49h0M175.44 409.42h0M206.82 447.26h0M211.09 450.77h0M182.01 405h0M209.79 450.72h0M206.35 449.58h0M212.75 455.56h0M187.81 432.42h0M194.43 438.56h0" stroke="#f1e51d" stroke-width="6.2" stroke-linecap="round" fill="none"/>
<path d="M186.62 426.54h0M175.93 407.65h0M180.78 408.78h0M176.37 406.66h0M179.46 408.29h0M182.13 423.51h0M187.87 422.61h0M181.64 403.33h0M194.17 408.95h0M198.55 436.35h0M186.16 428.1h0M186.81 412.95h0M217.11 458.62h0M179.78 409.73h0M202.98 438.49h0M178.89 401.56h0M186.82 432.54h0M210.29 451.44h0M187.85 431.22h0M176.1 402.8h0M179.41 417.75h0M213.83 458.5h0M204.04 436.7h0M191.54 410h0M179.03 402.39h0M183.29 427.67h0M176.93 415.24h0M183.74 415.77h0M218.08 457.07h0M186.54 424.15h0M192.09 427.48h0M191.55 428.48h0" stroke="#fbe723" stroke-width="6.2" stroke-linecap="round" fill="none"/>
</g>
<g>
<path d="M200.98 689.89h0M201.08 696.78h0" stroke="#450457" stroke-width="6.2" stroke-linecap="round" fill="none"/>
<path d="M206.91 689.18h0M206.91 696.78h0M191.03 713.63h0M209.28 712.2h0M214.26 702.95h0M211.41 704.37h0M208.57 714.34h0M206.91 708.41h0M212.36 701.05h0M198.61 709.36h0M209.04 704.13h0" stroke="#460a5d" stroke-width="6.2" stroke-linecap="round" fill="none"/>
<path d="M197.43 712.92h0M218.05 713.15h0M204.3 722.65h0M204.78 699.86h0M209.99 716.48h0M205.49 703.66h0M207.62 700.57h0M204.06 711.73h0M199.32 705.32h0M202.88 717.43h0M200.98 707.93h0M207.62 720.04h0M215.2 713.63h0M200.27 718.14h0M210.46 721.22h0M205.72 719.32h0M214.73 708.41h0M215.68 709.36h0M210.7 707.46h0M204.78 706.98h0" stroke="#471063" stroke-width="6.2" stroke-linecap="round" fill="none"/>
<path d="M213.07 724.07h0M202.64 723.36h0M212.36 712.68h0M202.17 725.97h0M217.1 720.75h0M212.74 732.74h0M208.8 727.16h0M213.07 719.32h0M211.89 716.95h0M217.05 737.2h0M205.72 725.97h0" stroke="#481668" stroke-width="6.2" stroke-linecap="round" fill="none"/>
<path d="M199.79 733.09h0M219.71 730.96h0M208.83 733.29h0M219.93 731.71h0M200.07 733.43h0M222.08 728.34h0M213.31 726.45h0M219 724.78h0M206.43 729.77h0M224.58 738.57h0M215.2 728.82h0M217.19 747.49h0M208.69 753.32h0M221.84 748.65h0" stroke="#481b6d" stroke-width="6.2" stroke-linecap="round" fill="none"/>
<path d="M212.26 739.6h0M212.26 750.23h0M231.22 756.06h0" stroke="#482071" stroke-width="6.2" stroke-linecap="round" fill="none"/>
<path d="M216.02 745.09h0M215.13 750.57h0M221.43 737.41h0M215.95 753.32h0M223.9 744.74h0M227.46 752.63h0M208.97 753.32h0M230.88 753.32h0M218.9 755.72h0M229.51 758.46h0M213.76 762.23h0M219.24 751.6h0M220.06 744.19h0M218.9 759.83h0M222.12 759.83h0" stroke="#482576" stroke-width="6.2" stroke-linecap="round" fill="none"/>
<path d="M229.08 768.13h0M216.92 768.63h0M217.84 778.1h0M222.53 762.92h0M231.35 771.69h0M242.01 777.74h0M225.31 784.29h0M223.74 795.04h0M235.97 780.23h0M232.59 763.94h0M233.96 766.34h0M221.25 772.9h0M219.62 778.45h0M239.53 783.44h0" stroke="#472a7a" stroke-width="6.2" stroke-linecap="round" fill="none"/>
<path d="M233.34 769.91h0M242.16 789.28h0M220.69 780.95h0M228.86 787.71h0M234.05 768.13h0M237.39 777.03h0M242.23 776.32h0M237.04 783.08h0M235.62 773.97h0M243.08 782.16h0M224.95 788.28h0M229.57 785.72h0M237.04 798.6h0M233.84 799.1h0M233.13 804.09h0M237.39 784.86h0" stroke="#472f7d" stroke-width="6.2" stroke-linecap="round" fill="none"/>
<path d="M235.62 794.47h0M237.04 791.98h0M244.15 796.97h0M232.27 793.98h0M234.55 789.85h0M245.21 799.81h0M248.77 788.64h0M239.53 781.66h0M248.77 799.81h0M253.74 795.19h0M249.12 804.8h0M247.91 794.47h0M254.1 799.1h0M244.86 802.66h0" stroke="#463480" stroke-width="6.2" stroke-linecap="round" fill="none"/>
<path d="M255.17 801.95h0M232.27 799.67h0M245.21 811.92h0M250.54 810.49h0M250.54 801.95h0M242.72 793.41h0M249.12 812.27h0M247.35 796.61h0M242.72 795.54h0M241.87 804.23h0M259.95 800.51h0M260.14 809.78h0" stroke="#443983" stroke-width="6.2" stroke-linecap="round" fill="none"/>
<path d="M253.74 816.19h0M251.97 805.15h0M256.38 801h0M255.02 802.84h0M240.95 809.07h0M257.51 799.67h0M257.3 802.31h0M256.46 806.75h0M245.57 808.71h0M254.81 805.51h0M257.3 817.97h0M259.49 801.92h0M263.43 806.28h0M253.74 814.77h0M250.54 812.99h0M258.37 805.87h0M261.63 805.53h0M260.21 806.06h0" stroke="#433e85" stroke-width="6.2" stroke-linecap="round" fill="none"/>
<path d="M260.85 806.58h0M247.7 806.58h0M253.25 820.11h0M257.98 804.81h0M267.63 801.31h0M262.66 812.78h0M267.4 793.66h0M266.1 807.81h0M265.72 818.9h0M255.17 809.07h0M264.73 808.23h0M266.74 809.45h0M262.51 821.58h0M263.04 815.84h0M264.19 801.69h0M266.52 810.59h0M265.87 801.59h0M267.28 818.23h0" stroke="#414287" stroke-width="6.2" stroke-linecap="round" fill="none"/>
<path d="M259.92 803.59h0M261.9 809.72h0M272.69 812.74h0M269.92 808.19h0M258.01 813.84h0M263.89 807.31h0M273.05 817.43h0M275.26 813.93h0M271.06 802.84h0M272.97 805.51h0" stroke="#3f4788" stroke-width="6.2" stroke-linecap="round" fill="none"/>
<path d="M269.15 817.75h0M274.88 820.05h0M273.74 809.34h0M272.69 803.84h0M267.4 813.16h0M274.82 811.84h0M277.94 815.07h0M274.5 822.34h0M272.59 815.07h0M269.92 823.11h0M272.21 818.9h0M277.17 805.9h0M283.28 810.87h0M282.37 823.11h0M285.96 821.19h0M279.85 806.66h0M277.55 818.13h0" stroke="#3e4c8a" stroke-width="6.2" stroke-linecap="round" fill="none"/>
<path d="M286.34 810.87h0M279.08 802.45h0M280.23 814.69h0M279.48 807.55h0M288.63 815.84h0M278.82 804.85h0M279.85 810.49h0M283.28 819.66h0M295.88 806.66h0" stroke="#3c508b" stroke-width="6.2" stroke-linecap="round" fill="none"/>
<path d="M280.27 804.33h0M286.72 815.07h0M281.08 801.27h0M288.63 821.19h0M281.87 802.75h0M289.01 809.72h0M272.97 799.78h0M280.79 804.02h0M282.14 806.66h0" stroke="#3a548c" stroke-width="6.2" stroke-linecap="round" fill="none"/>
<path d="M287.86 805.13h0M293.97 803.98h0" stroke="#38598c" stroke-width="6.2" stroke-linecap="round" fill="none"/>
<path d="M289.77 805.51h0M296.88 798.25h0M290.16 794.42h0M285.19 796.34h0" stroke="#365d8d" stroke-width="6.2" stroke-linecap="round" fill="none"/>
<path d="M282.87 766.97h0M287.84 766.97h0M286.72 789.6h0M296.77 769.45h0M298.2 776.42h0M298.02 778.82h0M298.45 780.13h0M294.79 772.39h0M296.96 775.87h0M294.7 774.6h0M294.89 789.45h0" stroke="#34618d" stroke-width="6.2" stroke-linecap="round" fill="none"/>
<path d="M295.53 773.09h0M295.38 769.94h0M290.34 772.66h0M285.01 769.83h0M284.66 758.06h0" stroke="#32658e" stroke-width="6.2" stroke-linecap="round" fill="none"/>
<path d="M298.53 774.01h0M292.1 777.3h0M296.27 772.38h0M297.52 766.75h0M276.48 766.47h0M294.42 765.53h0M296.98 767.38h0M296.37 772.62h0M294.67 770.06h0M291.97 762.87h0M280.38 768.75h0M295.41 764.31h0M294.24 781.21h0M293.1 765.08h0M286.77 764.13h0" stroke="#30698e" stroke-width="6.2" stroke-linecap="round" fill="none"/>
<path d="M292.96 766.55h0M294.59 771.52h0M296.35 768.04h0M293.15 764.43h0M290.39 761.59h0M291.94 764.03h0M285.18 757.99h0M293.85 770.18h0M293.39 765.63h0M293.93 761.98h0M290.34 769.11h0M296.89 767.62h0M298.04 773.42h0M288.89 755.24h0M294.36 764.45h0M291.28 765.54h0M291.47 760.68h0M294.08 765.45h0M293.99 770.82h0M295.8 766.28h0M296.12 761.98h0M297.6 763.65h0M292.12 763.11h0" stroke="#2e6d8e" stroke-width="6.2" stroke-linecap="round" fill="none"/>
<path d="M296.5 763.71h0M298.28 775.12h0M292.19 757.71h0M290.99 764.96h0M295.65 760.34h0M290.48 758.02h0M297.87 764.86h0M289.73 757.84h0M289.4 760.59h0M296.09 759.75h0M292.81 765.75h0M297.6 762.79h0M286.77 754.51h0M294.92 758.51h0M296.52 765.45h0M290.5 761.69h0M295.76 766.94h0M290.84 764.4h0M293.43 761.78h0M295.61 771.75h0M286.09 748.66h0M286.77 759.49h0M294.87 761.42h0" stroke="#2d718e" stroke-width="6.2" stroke-linecap="round" fill="none"/>
<path d="M292.94 760.75h0M291.12 753.88h0M290.45 761.02h0M295.14 764.94h0M292.5 761.4h0M292.94 757.51h0M291.88 767.55h0M290.99 761.93h0M288.39 752.42h0M292.24 758h0M291.8 756.02h0M287.01 751.08h0M290.67 753.17h0" stroke="#2b748e" stroke-width="6.2" stroke-linecap="round" fill="none"/>
<path d="M293.52 759.95h0M287.21 752.82h0M285.1 747.95h0M290.76 757.37h0M287.73 750.89h0M289.34 754.67h0M287.71 749.29h0M286.07 752.3h0M289.3 757.19h0M291.58 754.27h0M292.5 752.55h0M291.64 758.01h0M286.4 748.12h0M287.38 747.35h0M288.19 749.85h0" stroke="#2a788e" stroke-width="6.2" stroke-linecap="round" fill="none"/>
<path d="M293.67 757.43h0M293.23 760.76h0M285.13 748.64h0M292.76 754.35h0M287.43 755.75h0M284.93 747.41h0M300.59 776.31h0M301.88 783.57h0M300.19 780.67h0M299.79 777.78h0M298.46 769.57h0M304.29 778.57h0M297.62 774.81h0M298.56 772.92h0M298.8 773.34h0M308.6 778.21h0M299.8 774.12h0M299.3 776.11h0M301.19 774.11h0" stroke="#287c8e" stroke-width="6.2" stroke-linecap="round" fill="none"/>
<path d="M302.75 779.82h0M297.99 771.53h0M303.06 785.04h0M301.85 771.28h0M306.17 769.66h0M300.18 779.48h0M303.8 771.17h0M296.31 774.3h0M301.34 769.31h0M297.95 777.18h0" stroke="#27808e" stroke-width="6.2" stroke-linecap="round" fill="none"/>
<path d="M304.75 778.09h0M304.73 777.04h0M300.58 761.58h0M311.93 778.4h0M301.59 781.68h0M308.24 773.81h0M305.47 779.91h0M310.77 776.37h0M304.08 776.31h0M309.7 785.38h0M313.5 776.49h0M302.54 780.9h0M302.97 760.58h0M302.4 767.51h0M300.54 785.04h0M301.88 776.82h0M299.2 769.52h0M301.59 771.26h0" stroke="#25838e" stroke-width="6.2" stroke-linecap="round" fill="none"/>
<path d="M296.68 767.75h0M299.86 763.26h0M299.74 762.51h0M300.44 761.8h0M310.14 776.52h0M300.64 775.39h0M303.63 778.3h0M302.26 775.93h0M309.39 782.83h0M303.24 782.88h0M310.64 764.49h0M305 765.75h0M305.16 780.63h0M297.24 767.19h0M299.8 767.63h0M303.8 765.35h0M310.28 773.07h0M298.64 768.15h0M301.29 765.33h0M303.67 766.17h0M298.37 765.4h0M303.03 775.48h0M302.67 761.68h0M308.19 764.32h0M300.81 772.88h0M303.38 764.62h0M305.97 764.25h0" stroke="#24878e" stroke-width="6.2" stroke-linecap="round" fill="none"/>
<path d="M306.13 774.55h0M307.91 778.59h0M300.87 761.29h0M304.92 771.05h0M299.82 768.91h0M299.16 762.6h0M303.75 759.45h0M303.91 766.46h0M304.28 780.64h0M304.52 764.91h0M308.85 777.17h0M306.7 763.12h0M306.43 761.08h0M298.26 772.76h0M302.87 762.11h0M309.45 773.1h0M301.92 762.99h0M309.39 768.29h0M312.88 772.71h0M310.94 769.94h0M308.46 763.51h0M309.59 771.26h0M309.26 771.66h0M300.71 763.41h0M302.68 766.45h0M304.61 763.49h0" stroke="#228b8d" stroke-width="6.2" stroke-linecap="round" fill="none"/>
<path d="M304.76 775.73h0M309.56 777.53h0M307.57 774.63h0M302.52 760.89h0M303.28 762.74h0M302.24 767.52h0M308.93 765.96h0M305.55 776.16h0M310.61 773.72h0M309.21 769.48h0M308.02 765.8h0M308.5 768.3h0M305.86 759.51h0M307.28 778.7h0M305.19 772.41h0M303.19 762.92h0" stroke="#218f8d" stroke-width="6.2" stroke-linecap="round" fill="none"/>
<path d="M307.86 758.26h0M311.37 765.42h0M302.39 765.84h0M307.39 764.3h0M310.16 763.06h0M306.85 771.4h0M306.63 765.88h0M311.54 764.26h0M309.38 769.22h0M309.59 762.66h0M311.44 773.83h0M309.23 763.79h0M309.17 758.9h0" stroke="#20928c" stroke-width="6.2" stroke-linecap="round" fill="none"/>
<path d="M311.93 761.39h0M311.65 765.49h0M310.4 757.13h0M310.32 768.5h0M309.14 760.55h0M310.55 757.93h0M311.1 766.31h0M305.57 761.67h0M301.19 761.06h0" stroke="#1f968b" stroke-width="6.2" stroke-linecap="round" fill="none"/>
<path d="M303.77 764.17h0M311.77 764.96h0M310.13 764.24h0M310.93 764.03h0M305.61 759.77h0M309.24 773.27h0M299.09 768.36h0M292.55 764.74h0M309.87 772.41h0M291.01 761.96h0M292.98 763.07h0M293.08 762.51h0M301.66 766.54h0M299.83 761.26h0M305.84 770.57h0M309.13 770.06h0M303.04 769.07h0M305.68 769.82h0M306.87 770.89h0M296.83 765.56h0M296.92 769.63h0M310.17 770.44h0M296.39 762.32h0M304.61 771.63h0M296.42 763.15h0M310.64 765.39h0M302.95 770.86h0M311.73 771.9h0M305.01 770.49h0M300.87 772.46h0M309.72 768.03h0M307.64 772.58h0M299.32 762.57h0" stroke="#1f9a8a" stroke-width="6.2" stroke-linecap="round" fill="none"/>
<path d="M308.3 766.02h0M305.53 771.21h0M296.79 756.06h0M308.05 763.85h0M314.76 765.73h0M305.75 774.1h0M303.01 771.33h0M289.53 760.84h0M304.43 768.75h0M310.25 772.89h0M302.06 757.28h0M299.11 761.22h0M308.51 758.31h0M307.46 757.74h0M299.68 770.93h0" stroke="#1f9e89" stroke-width="6.2" stroke-linecap="round" fill="none"/>
<path d="M304.11 764.58h0M310.3 764.66h0M296.48 756.61h0M291.77 752.32h0M304.07 759.96h0M297.6 770.81h0M295.79 769.29h0M308.14 771.67h0M299.07 770.52h0M308.86 774.08h0M304.46 767.45h0M301.17 773.65h0" stroke="#1fa187" stroke-width="6.2" stroke-linecap="round" fill="none"/>
<path d="M303.36 773.75h0M295.98 771.48h0M294.35 762.39h0M309.81 771.33h0M293.62 761.54h0M299.73 763.77h0M300.46 772.98h0M311.14 765.56h0M311.3 762.29h0M304.01 769.81h0M291.15 762.12h0M298.17 747.33h0M301.68 766.53h0M296.06 749.57h0M305.51 774.23h0M307.76 768.7h0M291.9 757.89h0" stroke="#21a585" stroke-width="6.2" stroke-linecap="round" fill="none"/>
<path d="M287.66 755.58h0M303.61 765.7h0M309.68 771.97h0M298.44 762.57h0M279.4 739.6h0M291.29 754.3h0M304.07 766.35h0M297.57 755.25h0M300.24 755.19h0M294.6 739.86h0M299.3 762.53h0M298.12 766.02h0M304.99 764.03h0M299.48 760.36h0M285.2 736.27h0M284.66 747.34h0" stroke="#23a983" stroke-width="6.2" stroke-linecap="round" fill="none"/>
<path d="M300.81 767.26h0M299.73 764.99h0M296.39 764.11h0M310.88 766.27h0M292.06 759.25h0M288.76 754.09h0M303.02 762.92h0M300.41 770.74h0M288.73 751.43h0M297.49 757.47h0M289.63 739.6h0M311.44 761.22h0M302 766.05h0M293.32 750h0M296.86 768.57h0M306.54 766.3h0M279.66 739.91h0M300.78 757.64h0" stroke="#26ad81" stroke-width="6.2" stroke-linecap="round" fill="none"/>
<path d="M310.25 758h0M282.44 739.6h0M302.1 764.96h0M307.86 769.69h0M294.51 760.68h0M309.56 751.62h0M300.58 759.01h0M301.31 753.3h0M293.27 753.11h0M291.94 751.51h0M294.11 757.08h0M286.32 741.53h0M290.26 761.88h0M292.96 737.65h0M306.31 755.85h0M300.68 759.84h0M299.08 756.41h0M303.66 755.83h0M304.75 761.92h0" stroke="#2ab07f" stroke-width="6.2" stroke-linecap="round" fill="none"/>
<path d="M289.19 759.78h0M285.66 749.68h0M304.41 764.21h0M292.69 750.68h0M307.55 757.76h0M291 758.57h0M290.72 753.34h0M308.82 772.62h0M287.5 749.95h0M311.23 749.41h0M289.24 749.91h0M305.24 753.59h0M296.78 752.44h0M290.26 757.68h0M292.68 749.56h0M291.64 756.37h0M297.92 748.04h0M305.26 755.95h0M307.23 743.6h0M292.04 758.05h0M290.77 756.77h0M293.38 752.34h0M286.97 750.16h0M304.35 753.35h0M292.57 749.77h0M307.71 753.51h0" stroke="#2fb47c" stroke-width="6.2" stroke-linecap="round" fill="none"/>
<path d="M302.03 747.64h0M311.55 752.05h0M309.18 760.04h0M308.61 756.2h0M310.23 753.63h0M300.13 758.72h0M280.38 742.06h0M301.06 750.2h0M290.5 759.26h0M290.48 758.73h0M297.6 753.09h0M299.47 754.57h0M311.87 763.7h0M305.46 752.4h0M312 748.64h0M286.37 747.95h0M303.85 751h0" stroke="#35b779" stroke-width="6.2" stroke-linecap="round" fill="none"/>
<path d="M301.36 747.89h0M286 746.66h0M309.91 759.72h0M305.37 754.31h0M305 744.42h0M301.84 737.09h0M289.4 760.62h0M303.75 753.78h0M299.28 756.99h0M305.2 747.97h0M290.58 746.78h0M287.13 749.27h0M305.05 740.3h0M303.02 752.79h0M311.17 748.69h0M292.94 758.76h0M310.1 759.23h0" stroke="#3bbb75" stroke-width="6.2" stroke-linecap="round" fill="none"/>
<path d="M280.49 742.08h0M308.54 748.95h0M289.96 745.64h0M299.93 742.76h0M284.3 747.75h0M287.04 749.74h0M308.06 750.14h0M293.16 748.8h0M306.17 744.67h0M299.96 752.3h0M298.89 739.98h0M309.59 737.89h0M285.86 751.01h0M289.08 744.84h0M315.4 755.3h0M301.47 749.08h0M313.65 748.18h0M313.45 746.24h0M301.02 743.86h0" stroke="#42be71" stroke-width="6.2" stroke-linecap="round" fill="none"/>
<path d="M292.13 748.73h0M308.15 749.68h0M285.54 746.87h0M304.19 739.42h0M289.56 747.99h0M304.67 755.84h0M298.56 756.84h0M309.59 749.31h0M300.87 738.37h0M310.47 737.09h0M290.73 750.56h0M293.83 748.22h0M309.67 746.11h0" stroke="#4ac16d" stroke-width="6.2" stroke-linecap="round" fill="none"/>
<path d="M301.66 749.31h0M299.83 749h0M311.24 739.55h0M289.8 749.37h0M298.8 740.26h0M289.08 749.61h0M286.45 751.38h0M291.76 747.74h0M292.2 753.04h0M298.05 750.87h0M307.81 745.83h0M301.1 749.84h0M306 744.04h0M313.32 740.36h0M296.48 750.18h0M298.87 744.86h0M306.56 746.4h0M310.77 749.51h0" stroke="#52c569" stroke-width="6.2" stroke-linecap="round" fill="none"/>
<path d="M301.64 742.25h0M308.1 754.6h0M297.03 743.97h0M304.87 756.6h0M312.14 741.86h0M299.63 740.46h0M300.3 745.64h0M294.99 748.31h0M310.56 751.34h0M310.44 736.48h0M304.31 749.64h0M290.64 749.58h0M308.34 741.63h0M304.32 734.33h0M301.96 743.91h0M311.89 742.45h0M308.11 748.97h0" stroke="#5ac864" stroke-width="6.2" stroke-linecap="round" fill="none"/>
<path d="M285.39 746.59h0M294.93 747.96h0M300.84 739.81h0M301.74 765.92h0M297.28 737.72h0M298.39 736.69h0M313.12 740.1h0M309.18 735.59h0M302.03 751.02h0M297.78 743.14h0" stroke="#63cb5f" stroke-width="6.2" stroke-linecap="round" fill="none"/>
<path d="M300.26 738.86h0M298.25 734.37h0M305.6 742.87h0M314.24 744.73h0M309.82 738.61h0M305.24 740.36h0M299.13 736.99h0M301.03 735.04h0M313.52 741.55h0M311.82 739.09h0M300.19 739.7h0M312.95 742.11h0M299.78 742.25h0M298.61 734.32h0M313.64 744.89h0M311.88 743.41h0M307.49 739.14h0M310.69 741h0M298.04 734.54h0M300.74 736.78h0M310.77 745h0M309.68 738.9h0M304.79 736.35h0M313.21 743.78h0M302.93 751.09h0M312.51 747.34h0M303 751.35h0M309.78 754.31h0M313.03 749.72h0" stroke="#6ccd5a" stroke-width="6.2" stroke-linecap="round" fill="none"/>
<path d="M311.51 753.43h0M307.06 747.84h0M302.67 751.05h0M305.65 751.32h0M311.25 747.15h0M311.65 755.39h0M311.94 742.07h0M309.53 754.34h0M309.73 753.07h0M303.96 751.45h0M297.88 743.99h0M307.22 748.04h0" stroke="#75d054" stroke-width="6.2" stroke-linecap="round" fill="none"/>
<path d="M309.8 750.93h0M309.75 754.02h0M314.29 747.36h0M308.96 751.52h0M315.4 748.96h0M309.55 741.11h0M302.02 743.11h0M298.87 744.81h0M303.28 747.16h0M307.04 748.17h0M311.34 748.28h0M311.67 748.47h0M301.52 747.17h0M312.67 741.11h0M305.18 742.62h0M306.82 745.17h0M303.51 744.9h0M301.25 748.53h0M300.82 742.47h0M311.87 743.85h0M305.29 742.65h0" stroke="#7fd34e" stroke-width="6.2" stroke-linecap="round" fill="none"/>
<path d="M311.99 752.58h0M306.24 750.19h0M304.33 748.76h0M312.46 750.56h0M311 744.59h0M297.84 742.52h0M312.95 742.41h0M310.74 743.51h0M305.37 745.44h0M302.67 748.78h0M305.68 748.48h0M299.49 744.84h0M311.37 747.5h0M306.13 752.66h0M303.8 746.82h0M308.76 747.4h0M311.54 739.41h0M310.25 737.53h0M302.69 741.38h0M302.95 746.62h0" stroke="#89d548" stroke-width="6.2" stroke-linecap="round" fill="none"/>
<path d="M306.39 749.06h0M299.61 744.16h0M313.89 742.42h0M312.56 741.74h0M307.57 741.62h0M302.25 749.8h0M297.57 743.19h0M305.99 747.04h0M308.93 744.41h0M296.34 736.51h0M299.71 731.5h0M297.98 739.27h0M305.93 734.23h0M307.84 732.41h0M302.7 747.48h0M313.36 744.41h0" stroke="#93d741" stroke-width="6.2" stroke-linecap="round" fill="none"/>
<path d="M302.03 732.72h0M304.85 735.14h0M299.21 741.5h0M310.34 735.64h0M309.73 739.6h0M301.39 737.39h0M298.41 734.24h0M305.26 732.71h0M310.36 732.93h0M301.89 736.77h0M306.59 744.47h0M307.38 734.69h0M309.46 739.83h0M298.66 737.52h0M308.27 730.32h0M304.29 730.52h0M300.87 738.65h0M312.87 743.68h0" stroke="#9dd93b" stroke-width="6.2" stroke-linecap="round" fill="none"/>
<path d="M307.3 729.53h0M310.14 737.79h0M302.06 738.61h0M306.47 734.59h0M304.8 727.78h0M298.15 737.25h0M302.48 732.28h0M311.77 741.67h0M309.46 735.62h0M306.58 726.4h0M297.64 732.31h0M298.63 735.83h0M303.78 727.68h0M305.78 728.95h0M298.83 734.07h0" stroke="#a8db34" stroke-width="6.2" stroke-linecap="round" fill="none"/>
<path d="M307.62 731.5h0M302.32 727.12h0M298.59 733.35h0M301.31 727.3h0M301.69 734.66h0M296.21 725.59h0M302.8 734.49h0M300.02 732.94h0M297.7 729.65h0M302.37 727.16h0M300.14 733.27h0M302.05 732.2h0M307.76 730.26h0" stroke="#b2dd2d" stroke-width="6.2" stroke-linecap="round" fill="none"/>
<path d="M302.16 731.38h0M302.19 726.44h0M301.72 725.39h0M299.19 726.29h0M296.55 724.85h0M305.08 725.6h0M302.7 727.18h0M307.88 729.03h0M306.14 731.49h0M297.19 724.99h0M305.1 725.7h0M307.27 735.66h0M306.32 730.4h0M303.56 731.75h0M300.15 725.26h0M299.73 730.69h0M305.41 730.66h0M296.83 728.38h0M305.04 732.71h0M297.71 728.5h0M297.73 733.51h0M297.89 727.06h0M306.84 730.65h0M303.68 729.91h0M304.9 733.31h0M296.89 730.2h0M300.04 727.09h0M307.45 732h0M301.01 733h0M306.81 730.96h0M307.51 727.54h0" stroke="#bddf26" stroke-width="6.2" stroke-linecap="round" fill="none"/>
<path d="M307.05 732.45h0M296.22 732.45h0M299.35 730.13h0M308.05 730.72h0M309.36 732.08h0M306.06 731.25h0M304.99 730.54h0M298.81 720.04h0M304.36 731.74h0M304.41 732.34h0M306.98 724.04h0M297.25 717.93h0M304.17 726.94h0M309.33 731.19h0M300.1 733.54h0M307.28 732.03h0M296.88 726.75h0M296.09 731.35h0M306.09 723.64h0M307.31 725.84h0M302.84 728.44h0M301.57 730.04h0M302.11 728.94h0" stroke="#c8e020" stroke-width="6.2" stroke-linecap="round" fill="none"/>
<path d="M300.65 732.61h0M296.98 725.35h0M300.63 717.11h0M309.41 731.89h0M308.16 730.47h0M298.68 728.35h0M297.75 724.24h0M301.05 726.32h0M299.12 728.95h0M298.45 726.62h0M301.24 731.79h0M302.91 728.94h0M298.8 729.33h0M297.76 726.52h0M299.62 727.32h0M303.58 720.68h0M307.19 724.16h0M301.57 727.86h0M302.44 733.09h0M299.88 728.26h0M300.96 731.36h0" stroke="#d2e21b" stroke-width="6.2" stroke-linecap="round" fill="none"/>
<path d="M300.88 727.96h0M297.37 730.43h0M297.8 726h0M298.27 729.01h0M302.38 728.97h0M306.32 723.04h0M301.29 718.27h0M298.41 727.42h0M302.12 722.32h0M301.93 716.58h0M297.47 718.68h0M298.39 718.45h0M303 724.68h0M296.71 707.64h0M304.28 719.51h0M300.99 723.09h0M300.39 725.67h0" stroke="#dde318" stroke-width="6.2" stroke-linecap="round" fill="none"/>
<path d="M301.14 725.12h0M304.33 723.32h0M300.72 722.69h0M302.63 719.68h0M306.49 722.08h0M306.65 726.23h0M304.45 714.89h0M300.61 721.47h0M301.82 725.19h0M308.7 720.48h0M298.52 725.06h0M299.25 725.31h0M298.04 720.39h0M299.46 715.99h0" stroke="#e7e419" stroke-width="6.2" stroke-linecap="round" fill="none"/>
<path d="M300.79 718.16h0M291.84 718.26h0M301.87 722.42h0M302.99 724.65h0M297.51 714.92h0M297.08 716.46h0M306.79 726.57h0M299.78 720.32h0M302.55 713.27h0M303.01 716.6h0M294.05 719.64h0M303.11 713.37h0M306.39 725.78h0M301.94 713.72h0M298.19 718.59h0M304.41 716.35h0M302.56 714.85h0M300.32 719.23h0" stroke="#f1e51d" stroke-width="6.2" stroke-linecap="round" fill="none"/>
<path d="M298.61 714.09h0M298.15 712.43h0M297.7 717.83h0M301.82 711.97h0M299.5 710.1h0M299.29 715h0M300.21 713.4h0" stroke="#fbe723" stroke-width="6.2" stroke-linecap="round" fill="none"/>
</g>
<g>
<path d="M790.3 97.4h0M776.5 121.9h0M790.3 124.8h0M789.7 136.3h0M808.4 135.4h0M818.2 130.5h0M795.2 164.2h0M804.7 159.9h0M813.3 159.9h0M811.9 165.7h0M784.5 197.3h0M791.7 200.8h0M773.9 211.7h0M818.2 203.7h0M815.3 242h0M834.9 243.4h0M842.1 243.4h0M834.3 260.7h0M820.5 288h0M832 278h0M789.4 439.8h0M855.1 164.2h0M866.6 167.1h0M873.8 155.6h0M856.6 182.9h0M878.1 188.7h0M852.2 226.1h0M865 222h0M875.3 221.8h0M859.4 257.8h0M888.2 131.1h0M905.5 130.5h0M913.6 145.5h0M814.8 241.44h0M834.73 243.66h0M843.6 241.44h0M833.4 261.38h0M819.23 287.96h0M872.39 239.23h0M947.3 186.4h0M968.8 218.9h0M1002 265h0M948.4 365.5h0M974.3 368.4h0M991.6 378.5h0M1006 380h0M1019 367h0M1019 381.3h0M983 390h0M984.4 404.4h0M929.7 387h0M935.4 394.3h0M929.7 423h0M1001 461.4h0M1044.8 500.3h0M1076.5 525.9h0M1083.7 559.3h0M826.59 394.97h0M855.44 402.92h0M818.25 362.86h0M856.88 343.68h0M902.34 433.12h0M879.84 416.5h0M847.7 434.75h0M828.07 336.28h0M849.92 381.05h0M868.64 378.41h0M831.19 380.92h0M833.8 411.86h0M905.32 447.61h0M897.69 460.32h0M799.21 390.91h0M883.49 442.54h0M892.5 401.64h0M842.77 320.61h0M876.87 499.2h0M831.61 450h0M907.1 410.69h0M856.02 469.2h0M847.01 456.43h0M851.81 367.12h0M800.66 371h0M842.46 393.09h0M795.47 407.88h0M822.12 424.25h0M865.95 485.33h0M842.75 353.33h0M854.57 418.85h0M822.02 462.32h0M876.28 462.5h0M820.36 348.36h0M871.07 361.24h0M795.67 421.92h0M835.7 486.3h0M819.57 409.83h0M813.92 386.44h0M858.45 446.19h0M886.15 484.36h0M869.69 429.21h0M893.9 385.83h0M917.16 456.57h0M905.58 479.67h0M848.13 495.02h0M787.99 377.56h0M916.2 427.32h0M869.89 394.44h0M894.61 419.29h0M838.7 469.77h0M836.63 367.71h0M850.5 307h0M893 333h0M866 300h0M849.79 319.14h0M837.4 330.13h0M884.55 343.02h0M854.97 325.79h0M890.88 284.18h0M896.1 328.42h0M865.42 328.27h0M845.58 307.22h0M869.17 272.39h0M837.67 311.98h0M872.09 344.33h0M850.94 340.76h0M877.68 322.56h0M890.71 301.72h0M875.18 295.68h0M867.37 298.77h0M877.95 302.64h0M888.74 333.8h0M847.92 295.7h0M894.05 309.01h0M865.72 335.4h0M883.29 295.75h0M863.57 345.94h0M858.46 338.49h0M882.87 276.16h0M887.12 351.16h0M844.59 332.45h0M858.68 293.93h0M874.42 286.88h0M840.14 286.5h0M862.48 277.69h0M837.75 295.35h0M868.73 311.17h0M848.99 279.17h0M837.67 277.91h0M860.17 302.27h0M896.13 318.15h0M875.38 315.36h0M864.37 286.41h0M862.07 315.66h0M888.03 316.47h0M851.51 348.28h0M853.87 309.99h0M854.26 284.93h0M881.62 331.97h0M935.69 355.1h0M915.99 340.2h0M903.1 341.5h0M900.91 260.03h0M896.85 274.9h0M918.68 291.28h0M915.62 325.77h0M906.86 261.13h0M908.35 306.4h0M911.73 322.45h0M920.36 254.48h0M936 346.41h0M912.93 253.02h0M931.44 276.66h0M926.21 296.52h0M925.36 269.15h0M932.66 285.15h0M902.71 331.02h0M912.31 343.88h0M909.12 326.83h0M938.8 311.76h0M895.97 312.05h0M915.16 312.81h0M930.14 305.7h0M937.07 325.42h0M906.93 351.86h0M943.98 309.01h0M921.26 323.47h0M894.33 264.04h0M905.97 289.36h0M909.56 312.36h0M919.89 276.74h0M937.41 299.28h0M904.63 276.09h0M930.81 327.45h0M926.17 321.94h0M898.6 303.01h0M945 329.67h0M914.38 270.08h0M939.56 293.33h0M898.54 279.89h0M922.8 328.67h0M919.1 356.14h0M927.71 341.68h0M929.31 254.09h0M900.88 325.99h0M907.81 268.15h0M938.17 283.28h0M922.8 262.68h0M937.23 319.7h0M926.51 288.55h0M911.55 349.45h0M899.41 297.94h0M919.89 334.05h0M897.61 319.93h0M898.69 150.97h0M883.19 158.73h0M892.05 157.62h0M904.23 165.37h0M913.09 167.59h0M925.27 169.8h0M879.87 177.55h0M887.62 183.09h0M885.4 203.02h0M893.16 206.35h0M896.48 176.45h0M906.45 178.66h0M915.3 183.09h0M899.8 191.95h0M908.66 196.38h0M895.37 160.94h0M993.93 273.75h0M983.88 276h0M966.74 306.75h0M898.94 265.56h0M970.17 341.25h0M970.05 235.9h0M917.33 311.54h0M959.16 294.03h0M992.71 377.37h0M1001.73 343.98h0M909.65 219.55h0M975.35 261.89h0M948.59 338.38h0M959.81 290.66h0M986.13 295.47h0M992.26 343.56h0M947.97 329.17h0M937.65 270.62h0M901.98 228.64h0M954.64 340.22h0M932.78 254.73h0M893.91 277.03h0M991.61 326.17h0M973.56 247.94h0M955.43 306.37h0M995.56 307.78h0M953.72 323.55h0M943.37 247.19h0M996.16 346.62h0M992.75 345.2h0M915.26 330.6h0M910.35 212.67h0M916.16 267.78h0M987.02 262.66h0M958.21 257.28h0M902.79 222.15h0M990.7 377.85h0M911.86 252.34h0M954.78 284.53h0M951.9 312.87h0M943.79 352.67h0M903.85 265.9h0M936.51 299.31h0M1001.16 313.6h0M961.44 279.2h0M933.93 255.5h0M898.24 250.31h0M920.21 218.39h0M950.36 302.76h0M989.47 320.71h0M905.89 267.24h0M941.33 297.31h0M984.4 250.59h0M972.36 353.95h0M978.94 283.83h0M949.86 335.11h0M908.79 203.85h0M920.91 318.3h0M975.28 294.16h0M923.51 337.83h0M922.39 350.65h0M952.84 308.41h0M914.83 306.76h0M985.33 370.94h0M996.63 266.85h0M1002.21 374.03h0M984.16 255.89h0M921.92 305.98h0M934.58 252.9h0M952.05 323.34h0M939.96 307.17h0M939.71 349.34h0M917.89 257h0M987.56 348.68h0M1002.03 344.92h0M937.27 276.35h0M932.46 266.95h0M979.37 254.47h0M915.95 278.73h0M949.99 225.53h0M909.05 235.62h0M953.84 282.59h0M1015.77 368.03h0M938.9 339.07h0M912.05 189.47h0M956.02 333.35h0M990.95 283.72h0M939.68 325.94h0M908.52 352.79h0M988.73 283.37h0M908.85 204h0M914.32 326.26h0M905.02 335.15h0M956.55 281.43h0M933.5 332.91h0M893.96 315.26h0M967.45 288.04h0M968.83 289.09h0M945.97 302.51h0M920.11 196.93h0M902.65 332.87h0M906.65 266.32h0M905.66 261.97h0M986.08 318.69h0M967.57 295.57h0M950.52 224.24h0M981.72 354.05h0M894.37 318.01h0M986 349.47h0M953.46 264.44h0M955.8 229.41h0M889.58 292.82h0M936.37 264.36h0M918.29 205.63h0M924.91 254.93h0M974.88 342.43h0M925.39 355.82h0M972.18 347.33h0M934.54 299.08h0M971.44 341.02h0M1003.87 318.58h0M939.19 236.88h0M903.61 194.53h0M955.95 239.77h0M916.1 297.27h0M983.01 300.91h0M979.26 342.83h0M914.48 167.62h0M958.63 288.91h0M936.83 349.23h0M981.51 274.67h0M947.12 217.96h0M1005.61 338.11h0M967.93 233.45h0M999.66 359.2h0M943.99 347.15h0M973.03 312.77h0M982.03 288.06h0M965.48 284.71h0M929.14 205.64h0M978.57 342.02h0M977.36 321.36h0M914.8 300.5h0M939.18 243.09h0M891.85 273.59h0M904.62 306.35h0M951.37 320.83h0M979.89 344.44h0M949.2 313.93h0M915.52 290.46h0M983.02 274.59h0M932.74 272.53h0M939.37 331.74h0M949.08 282.22h0M934.78 228.24h0M916.87 208.53h0M902.4 241.66h0M944.42 216.58h0M899.92 314.61h0M955.28 266.44h0M929.75 226.35h0M949.12 325.41h0M1005.41 371.77h0M1007.74 315.37h0M985.93 262.04h0M910.39 343.5h0M923.32 198.97h0M946.74 222.83h0M940.41 300.02h0M924.55 345.92h0M925.16 258.71h0M910.17 190.58h0M953.09 253.93h0M926.17 205.01h0M953.13 286.91h0M899.92 269.8h0M918.23 214.49h0M956.22 288.65h0M916.75 254.91h0M905.83 214.12h0M920.08 240.46h0M998.76 357.44h0M993.98 307.23h0M991.23 261.32h0M943.07 211.66h0M949.49 258.88h0M976.4 331.05h0M959.33 279.46h0M969.59 353.58h0M914.61 225.07h0M915.58 310.57h0M993.08 323.62h0M957.26 255.01h0M906.67 276.88h0M902.7 300.74h0M891.72 245.62h0M944.42 247.2h0M925.96 251.33h0M939.6 210.17h0M954.52 243.22h0M974.14 255.86h0M943.4 222.67h0M997.95 362.56h0M900.69 322.06h0M915.65 233.29h0M1000.51 376.3h0M1001.08 327.18h0M941.98 323.07h0M903.52 256.54h0M934.58 275.65h0M987.59 257.24h0M956.51 297.91h0M921.55 292.34h0M913.03 267.13h0M901.82 300.81h0M906.1 210.64h0M975.61 268.26h0M925.02 270.74h0M952.86 285.54h0M952.83 294.63h0M951.91 219.52h0M996.05 329.02h0M930.32 287.86h0M972.82 300.76h0M961.4 310.04h0M947.55 221.47h0M920.71 288.62h0M993.87 274.43h0M905.3 327.89h0M986.12 288.84h0M935.99 356.52h0M911.46 339.03h0M895.33 188.09h0M970.73 283.41h0M917.5 215.62h0M896.38 287.31h0M1004.6 372.17h0M937.97 287.48h0M978.61 251.96h0M959.82 235.26h0M987.85 321.53h0M934.43 281.8h0M944.24 244.61h0M902.34 335.73h0M916.21 269.29h0M949.37 237.84h0M919.37 172.62h0M915.17 175.56h0M974.42 265.07h0M908.16 314.98h0M896.71 183.36h0M956.74 230.9h0M899.32 300.57h0M978.88 347.1h0M939.08 288.47h0M910.95 221.12h0M954.67 287.56h0M976.3 268.14h0M922.26 212.42h0M922.47 195.61h0M905.38 333.78h0M979.54 277.48h0M947.58 283.3h0M937.12 252h0M918.44 248.7h0M1012.95 371.9h0M1014.89 358.69h0M954.06 317.96h0M951.94 237.07h0M977.97 365.26h0M935 335.27h0M997.93 310.39h0M887.21 255.51h0M931.16 280.68h0M997.33 324.16h0M928.37 285.28h0M922 271.03h0M947.11 245.03h0M892.35 239.3h0M916.65 324.99h0M928.4 242.48h0M892.74 280.31h0M897.16 323.06h0M999.65 280.62h0M906.67 296.88h0M903.76 225.03h0M905.52 320.09h0M985.66 347.3h0M911.64 324.4h0M989.32 320.46h0M979.98 335.22h0M1003.53 292.86h0M889.61 261.52h0M911.73 176.14h0M913.41 354.65h0M1011.48 307.29h0M981.65 312.25h0M930.98 208.15h0M966.46 237.31h0M889.16 288.65h0M998.88 295.64h0M940.1 251.97h0M912.61 320.04h0M946.06 227.08h0M938.57 238.32h0M911.4 270.53h0M977.36 265.03h0M924.38 247.88h0M893.48 269.91h0M961.3 231.58h0M955.47 229.53h0M1010.9 373.24h0M889.76 268.69h0M964.84 303.3h0M905.24 329.31h0M899.53 190.54h0M896.37 248.54h0M928.3 248.82h0M895.73 258.62h0M986.94 350.98h0M992.67 367.22h0M894.2 320.05h0M967.31 263.82h0M904.13 274.05h0M989.26 368.9h0M949.5 263.44h0M969.59 345.65h0M904.24 297.75h0M919.67 217.93h0M997.38 362.25h0M1155.45 461.83h0M1182.67 486.35h0M1192.24 484.86h0M1210.18 495.32h0M1198.22 507.28h0M1189.25 513.27h0M1180.28 517.75h0M1161.44 518.35h0M1178.78 531.21h0M1207.19 528.22h0M1159.34 537.19h0M1208.68 538.68h0M1205.69 550.65h0M1127.94 541.67h0M1142.3 547.06h0M1148.88 553.64h0M1139.9 562.61h0M1165.32 555.13h0M1145.89 571.58h0M1154.86 571.58h0M1162.33 565.6h0M1172.8 565.6h0M1184.76 568.59h0M1136.32 588.03h0M1153.36 583.54h0M1159.34 589.52h0M1171.3 580.55h0M1177.28 595.5h0M1186.26 583.54h0M1196.72 580.55h0M1166.82 595.5h0M1148.88 604.47h0M1163.83 611.95h0M1153.36 619.43h0M1147.38 629.89h0M1124.95 621.82h0M1157.85 640.36h0M1178.78 631.39h0M1174.29 646.34h0M1163.83 656.81h0M1182.67 658.3h0M1148.88 659.8h0M1153.36 671.76h0M1154.26 689.7h0M1190.14 686.71h0M1205.69 665.78h0M1198.22 604.47h0M1207.19 592.51h0M1214.67 583.54h0M1225.13 589.52h0M1235.6 580.55h0M1210.18 607.46h0M1220.65 601.48h0M1231.11 607.46h0M1241.58 601.48h0M1208.68 623.91h0M1213.17 637.37h0M1219.15 646.34h0M1225.13 625.41h0M1235.6 619.43h0M1246.06 628.4h0M1232.61 635.87h0M1243.07 643.35h0M1253.54 637.37h0M1229.62 655.31h0M1226.63 668.77h0M1250.55 616.44h0M1259.52 625.41h0M1265.5 634.38h0M1275.97 667.27h0M1277.46 679.23h0M1272.98 631.39h0M1145.29 558.12h0M1151.87 564.1h0M1157.85 576.06h0M1150.37 580.55h0M1168.31 573.07h0M1178.78 574.57h0M1190.74 576.06h0M1202.7 586.53h0M1217.66 594.01h0M1228.12 599.99h0M1202.7 598.49h0M1214.67 613.44h0M1223.64 616.44h0M1229.62 628.4h0M1238.59 634.38h0M1220.65 634.38h0M1154.86 595.5h0M1151.87 611.95h0M1157.85 626.9h0M1169.81 649.33h0M1159.34 649.33h0M1217.66 580.55h0M1208.68 574.57h0M1199.71 589.52h0M1213.17 622.42h0M1237.09 610.45h0M1247.56 622.42h0M1256.53 631.39h0M1222.14 653.82h0M1337.68 632.09h0M1332.37 639.53h0M1333.16 654.69h0M1320.4 671.44h0M1317.74 691.38h0M1347.79 696.7h0M1301.79 695.37h0M1293.81 684.73h0M1277.86 679.42h0M1276.53 667.45h0M1287.17 663.46h0M1296.47 671.44h0M1307.11 663.46h0M1309.77 650.17h0M1299.13 650.17h0M1285.84 650.17h0M1275.2 644.85h0M1269.88 636.87h0M1307.11 639.53h0M1317.74 628.9h0M1296.47 628.9h0M1244.62 643.52h0M1255.26 639.53h0M1235.32 628.9h0M1232.66 656.81h0M1323.06 652.83h0M1315.08 660.8h0M1304.45 678.09h0M1288.5 675.43h0M1325.72 642.19h0M1283.18 639.53h0M1292.48 642.19h0M1312.42 674.1h0M1309.77 684.73h0M1197.97 507.97h0M1208.94 529.9h0M1207.94 542.85h0M1204.95 551.82h0M1213.92 515.95h0M1194.98 581.72h0M1211.93 585.71h0M1225.88 593.68h0M1237.84 611.62h0M1231.86 601.65h0M1354.97 528.66h0M1356.3 545.14h0M1345.66 546.47h0M1350.98 559.77h0M1359.49 567.74h0M1375.71 569.07h0M1337.68 575.72h0M1332.37 546.47h0M1341.67 559.77h0M1247.89 534.45h0M1267.89 546.7h0M1238.34 520.73h0M1281.07 610.08h0M1271.78 609.5h0M1270.04 582.41h0M1262.92 591.76h0M1292.78 600.34h0M1266.61 547.66h0M1264.16 553.97h0M1273.45 598.05h0M1249.97 523.24h0M1255.25 535.43h0M1293.79 604.55h0M1249.32 545.55h0M1286.5 552.16h0M1272.14 545.26h0M1249.17 524.01h0M1251.85 564.62h0M1265.62 575.82h0M1270.71 569.28h0M1267.72 596.64h0M1250.12 547.07h0M1286.18 599.27h0M1263.62 584.27h0M1256.68 537.44h0M1256.39 557.01h0M1275.25 547.23h0M1278.16 609.78h0M1280.58 589.58h0M1260.52 537.76h0M1264.18 540.74h0M1259.84 554.29h0M1284.36 575.18h0M1251.42 526.04h0M1294.62 603.43h0M1249.71 538.1h0M1288.37 583.82h0M1279.74 541.18h0M1266.54 582.88h0M1272.78 556.73h0M1288.69 553.05h0M1247.38 539.95h0M1282.26 571.04h0M1265.42 555.26h0M1281.36 598.12h0M1247.45 525.39h0M1250.44 541.8h0M1261.64 545.38h0M1262.96 578.25h0M1292.5 612.7h0M1251.68 548.57h0M1242.67 534.11h0M1291.65 602.13h0M1280.75 544.36h0M1293.48 606.69h0M1256.33 529.1h0M1265.61 544.69h0M1280.48 591.06h0M1292.62 588.23h0M1266.47 539.23h0M1242.05 526.7h0M1294.01 615.88h0M1291.7 570.19h0M1266.21 548.26h0M1239.15 524.61h0M1257.57 575.5h0M1272.27 583.79h0M1256.47 531.89h0M1260.02 563.02h0M1272.81 574.69h0M1252.89 545.88h0M1255.46 567.33h0M1250.91 547.7h0M1254.87 557.9h0M1283.41 553.18h0M1277.78 597.67h0M1273.88 605.07h0M1263.86 573.55h0M1283.27 603.73h0M1291.95 624.2h0M1297.01 613.71h0M1285.41 564.06h0M1249.55 557.27h0M1273.25 579.65h0M1261.44 582.24h0M1271.38 560.71h0M1262.95 576.59h0M1263.3 549.47h0M1266.81 597.2h0M1250 534.14h0M1266 538.6h0M1291.21 571.17h0M1273.18 543.99h0M1284.79 544.99h0M1259.38 528.98h0M1283.91 571.41h0M1287.2 572.56h0M1242.19 548.34h0M1290.42 601.62h0M1242.81 512.04h0M1270.02 583.34h0M1268.64 547.04h0M1306.09 611.6h0M1272.07 556.15h0M1249.75 561.78h0M1318.48 536.39h0M1262.25 550.13h0M1305.35 571.98h0M1296.43 610.3h0M1258.41 509.89h0M1292.9 576.53h0M1282.05 582.96h0M1270.33 486.55h0M1253.46 565.94h0M1223.59 467.65h0M1254.39 536.97h0M1244.3 507.24h0M1293.97 571.15h0M1316.27 545.15h0M1304.31 524.44h0M1253.8 571.68h0M1318.43 598.31h0M1250.73 509.18h0M1295.68 620.22h0M1236.7 479.5h0M1301.64 489.79h0M1237.6 491.26h0M1271.56 525.62h0M1246.96 490.61h0M1283.11 566.88h0M1318.97 579.44h0M1294.66 482.09h0M1289.75 607.18h0M1287.26 525.29h0M1290.01 590.84h0M1251.21 473.77h0M1260.88 536.54h0M1317.21 545.8h0M1256.7 550.08h0M1240.75 518.19h0M1320.74 551.6h0M1306.22 499.72h0M1288.7 487.74h0M1262.23 556.06h0M1308.53 588.52h0M1305.09 513.27h0M1310.67 538.11h0M1238.65 501.69h0M1306.96 614.99h0M1253.38 546.73h0M1294.72 518.41h0M1242.05 521.45h0M1251.82 533.8h0M1274.65 474.16h0M1277.71 484.15h0M1298.38 575.14h0M1247.13 525.56h0M1264.44 490.65h0M1318.2 553.71h0M1304.71 615.73h0M1287.45 479.35h0M1272.7 600.46h0M1300.79 574.87h0M1298.2 484.55h0M1269.49 589.29h0M1275.05 585.86h0M1273.73 459.08h0M1293.18 576.71h0M1296.14 555.46h0M1252.42 495.91h0M1277.77 519.53h0M1285.53 559.51h0M1279.9 547.6h0M1232 491.86h0M1275.15 477.79h0M1311.26 521.12h0M1326.93 587.87h0M1289.74 514.62h0M1289.19 493.07h0M1227.1 470.22h0M1296.21 496.96h0M1274.14 566.07h0M1238.83 502.13h0M1239.96 476.01h0M1274.96 566.24h0M1240.27 513.93h0M1233.81 516.78h0M1282.31 466.78h0M1248.11 499.47h0M1269.8 588.72h0M1291.81 548.29h0M1243.41 490.6h0M1267.75 604.83h0M1282.09 612.64h0M1226.82 485.43h0M1301.57 605.96h0M1326 574.06h0M1314.68 531.65h0M1248.38 544.08h0M1264.37 533.4h0M1272.9 597.68h0M1299.33 619.17h0M1251.24 563.95h0M1326.97 556.53h0M1323.53 541.41h0M1298.44 573.38h0M1265.91 604.25h0M1289.48 502.55h0M1307.48 513.19h0M1288.14 543.41h0M1246.13 533.61h0M1264.82 465.21h0M1312.42 515.47h0M1240.86 542.34h0M1284.67 561.23h0M1239.06 470.56h0M1246.06 517.39h0M1249.44 548.01h0M1314.47 545.44h0M1323.75 592.36h0M1325.86 574.41h0M1276.19 463.11h0M1222.65 488.59h0M1252.14 474.61h0M1236.93 506.47h0M1286.54 590.99h0M1252.88 528.69h0M1239.67 473.44h0M1316.9 609.59h0M1310.01 559h0M1260.87 558.44h0M1297.93 552.03h0M1234.91 519.25h0M1280.62 506.67h0M1319.28 546.59h0M1280.15 521.36h0M1230.05 484.02h0M1282.48 497.46h0M1275.34 609.84h0M1294.43 491.32h0M1309.63 548.26h0M1260.74 516.29h0M1287.7 605h0M1279.47 462.38h0M1257.85 516.5h0M1242.04 511.86h0M1306.59 595.55h0M1288.84 526.04h0M1265.61 584.13h0M1276.79 604.39h0M1295.97 598.76h0M1253.19 565.73h0M1271.22 560.52h0M1258.91 516.55h0M1271.38 513.1h0M1268.4 518.3h0M1282.5 552.21h0M1310.62 511.23h0M1251.64 519.52h0M1254.37 573.14h0M1283.51 595.46h0M1257.89 497.23h0M1299.05 598.79h0M1306.37 547.75h0M1314.22 545.64h0M1287.62 507.9h0M1294.01 497.66h0M1279.94 571.02h0M1255.64 509.96h0M1258.36 574.96h0M1294.52 584.12h0M1246.91 538.58h0M1253.33 545.29h0M1262.04 549.2h0M1293.43 540.62h0M1298.27 591.45h0M1272.46 550.75h0M1313.14 579.74h0M1264.85 600.43h0M1290.6 559.09h0M1297.65 616h0M1252.81 500.84h0M1297.19 512.89h0M1283.68 518.08h0M1303.43 542.74h0M1273.85 573.03h0M1263.98 556.9h0M1306.42 507.43h0M1311.02 556.13h0M1296.93 589.7h0M1316.46 537.3h0M1294.25 556.65h0M1272.86 536.68h0M1295.77 551.42h0M1271.31 551.03h0M1292.78 593.28h0M1247.86 534.26h0M1301.2 546.82h0M1306.68 516.64h0M1251.25 546.65h0M1271.98 527.42h0M1309.06 566.22h0M1266.67 519.38h0M1327.67 581.01h0M1305.27 581.85h0M1267.81 529.08h0M1277.62 489.83h0M1298.04 571.43h0M1321.2 516.75h0M1274.07 604.45h0M1295.42 610.42h0M1309.66 603.72h0M1251.64 501.8h0M1278.16 581.32h0M1228 445h0M1240 446h0M1255 448h0M1246 455h0M1233 458h0" stroke="#008000" stroke-width="16.4" stroke-linecap="round" fill="none"/>
<path d="M779.6 146.64h0M771.85 159.93h0M697.65 168.79h0M707.62 169.9h0M723.12 168.79h0M728.66 164.36h0M713.16 175.44h0M705.4 185.4h0M750.81 187.62h0M776.28 185.4h0M772.96 189.83h0M733.09 196.48h0M710.94 200.91h0M757.45 204.23h0M774.06 204.23h0M738.63 209.77h0M706.51 216.41h0M723.12 219.73h0M730.87 224.16h0M754.13 225.27h0M769.63 233.02h0M747.49 228.59h0M707.62 231.92h0M713.16 235.24h0M727.55 237.45h0M741.95 244.1h0M755.24 248.53h0M775.17 248.53h0M772.96 255.17h0M696.54 248.53h0M704.3 250.74h0M702.08 261.82h0M726.45 260.71h0M676.61 265.14h0M695.44 271.78h0M757.45 264.03h0M789.57 262.92h0M770.74 268.46h0M710.94 275.11h0M719.8 277.32h0M735.3 270.68h0M748.59 275.11h0M764.1 277.32h0M781.82 277.32h0M799.53 275.11h0M811.72 270.68h0M691.01 288.39h0M713.16 292.82h0M728.66 286.18h0M753.02 283.96h0M830.54 278.43h0M837.19 286.18h0M826.11 290.61h0M844.94 292.82h0M709.83 305.01h0M718.69 308.33h0M734.2 303.9h0M757.45 302.79h0M741.95 310.54h0M707.62 328.26h0M726.45 314.97h0M737.52 323.83h0M748.59 317.19h0M707.62 328.86h0M735.3 325.54h0M715.37 355.44h0M727.55 352.12h0M741.95 353.22h0M726.45 365.4h0M745.27 365.4h0M747.49 382.02h0M749.7 386.45h0M764.1 377.59h0M768.53 388.66h0M745.27 417.45h0M777.39 408.59h0M775.17 424.1h0M810.61 461.75h0M817.25 487.22h0M792.89 430.74h0M802.86 432.96h0M784.03 407.49h0M816.15 448.46h0M801.75 444.03h0M792.89 417.45h0M806.18 452.89h0M698.6 102.75h0M900.73 259.9h0M877.8 264.88h0M862.85 280.83h0M902.72 274.85h0M908.7 279.83h0M872.82 297.77h0M928.63 302.75h0M937.6 309.73h0M957.53 298.77h0M957.53 306.74h0M939.59 317.7h0M943.58 329.66h0M937.6 338.63h0M923.65 349.59h0M925.64 353.58h0M896.74 385.47h0M905.71 395.44h0M865.16 263.84h0M890.75 266.59h0M882.08 276.55h0M895.5 283.13h0M911.2 284.07h0M920.19 288.74h0M883.28 292.58h0M900.01 297.72h0M910.18 299.11h0M856.52 300.26h0M882.03 307.69h0M867.42 310.66h0M855.67 316.81h0M892.03 312.77h0M906.59 307.58h0M921.34 313.64h0M928.78 318.96h0M881.05 330.15h0M848.98 333.1h0M898.32 328.08h0M915.7 332.53h0M926.02 333.99h0M937.7 335.33h0M824.85 335.65h0M895.83 337.51h0M905.71 350.03h0M912.65 351.76h0M861.73 353.37h0M872.73 349.19h0M886.32 361.61h0M891.6 364.61h0M907.47 366.43h0M914.85 359.47h0M933.65 367.22h0M871.44 374.35h0M882.05 374.85h0M916.74 378.37h0M940.39 383.5h0M869.68 386.63h0M883.34 384.97h0M900.65 393.41h0M917.35 391.39h0M972.08 486.4h0M956.58 506.34h0M972.08 530.7h0M998.67 541.78h0M1018.61 563.05h0M978.73 550.64h0M965.44 570.58h0M952.15 559.5h0M983.16 579.44h0M994.24 594.95h0M969.87 590.52h0M1016.39 594.95h0M982.27 617.1h0M989.81 632.61h0M952.15 610.46h0M932.21 619.32h0M1003.1 650.33h0M1018.61 661.41h0M1060.7 636.15h0M926.89 657.86h0M1023.04 619.32h0M861.32 585.2h0M883.47 601.6h0M907.84 610.46h0M839.16 557.29h0M843.6 541.78h0M934.42 466.46h0M947.72 488.61h0M961.01 473.11h0M936.64 501.91h0M947.72 528.49h0M963.22 541.78h0M925.56 448.74h0M963.92 571.96h0M971.4 586.91h0M962.43 595.89h0M992.33 594.39h0M981.87 577.94h0M957.94 564.49h0M969.9 565.98h0M892.19 547.77h0M870.65 553.28h0M918.71 551.74h0M919.3 597.61h0M892.49 552.37h0M907.48 573.6h0M899.47 567.22h0M898.59 573.42h0M935.52 534.37h0M888.09 564.4h0M925.37 551.06h0M895.91 574.84h0M880.7 556.18h0M937.1 578.65h0M934.93 555.08h0M924.66 556.57h0M922.09 585.15h0M900.8 562.22h0M886.31 561.68h0M882.76 569.71h0M912.14 581.23h0M926.78 597.96h0M889.49 570.26h0M914.96 563.78h0M913.41 591.86h0M927.87 578.24h0M915.62 563.63h0M925.05 568.12h0M941.68 550.84h0M877.19 557.69h0M935.73 576.91h0M949.41 576.97h0M866.73 553.85h0M914.44 589.01h0M913.07 554.1h0M955.51 562.54h0M920.94 545.86h0M946.05 569.5h0M925.79 569.88h0M915.7 595.1h0M925.21 550.94h0M932.05 593.98h0M904.21 570.71h0M930.68 541.27h0M930.31 565.46h0M891.09 573.4h0M868.75 550.82h0M906.09 571.09h0M932.04 544.21h0M915.08 583.62h0M882.73 566.76h0M917.52 575.87h0M901.11 548h0M932.01 587.17h0M900.98 551.02h0M933.68 569.28h0M909.3 550.26h0M926.78 568.19h0M931.94 536.52h0M907.79 579.81h0M938.77 540.32h0M909.21 546.89h0M918.27 568.37h0M929.84 554.95h0M954.62 556.13h0M909.56 586.79h0M872.67 550.44h0M910.35 585.88h0M930.92 557.37h0M929.86 559.89h0M850.77 488.21h0M774.06 341.07h0M843.9 310.29h0M780.24 354.86h0M845.34 495.35h0M790.97 368.52h0M857.94 377.11h0M946.22 522.93h0M837.51 456.87h0M933.72 520.34h0M896.99 398.52h0M814.4 370.04h0M775.11 316.03h0M917.24 546.24h0M835.63 499.39h0M914.55 467.49h0M837.78 466.46h0M950.05 545.58h0M925.31 558.63h0M790.09 331.99h0M872.5 461.54h0M868.78 482.04h0M881.07 396.22h0M796.38 288.18h0M878.95 496.79h0M806.1 344.86h0M812.71 331.69h0M862.99 401.31h0M906.84 520.2h0M821.03 443.64h0M877.54 552.96h0M831.84 430.18h0M817.42 323.99h0M860.83 491.94h0M849.8 447.8h0M818.57 419.21h0M859.7 440.58h0M907.87 556.22h0M912 404.27h0M829.76 437.26h0M806.11 393.03h0M936.38 510.63h0M953.02 554.16h0M834.97 344.96h0M776.08 302.36h0M756.29 301.26h0M861.23 339.92h0M917.84 525.2h0M909.68 483.76h0M867.44 547.3h0M850.12 469.71h0M956.65 549.89h0M855.3 385.55h0M844.32 480.04h0M782.7 319.75h0M877.64 432.06h0M834.84 429.38h0M839.57 450.51h0M861.45 437.88h0M901.29 498.15h0M849.05 345.79h0M844.46 390.85h0M922.33 594.06h0M940 527.99h0M826.85 365.98h0M863.92 478.35h0M867.13 404.37h0M898.33 469.62h0M839.42 478.08h0M866.84 437.22h0M858.8 440.12h0M892.71 422.48h0M902.71 494.14h0M897.58 448.47h0M851.51 421.56h0M772.08 323.63h0M864.67 535.06h0M849.49 437.56h0M905.01 476.7h0M810.62 380.89h0M918.84 451.72h0M890.49 483.15h0M815.4 404.8h0M928.11 465.84h0M947.1 541.39h0M832.09 349.8h0M804.56 335.07h0M901.73 390.26h0M873 515.57h0M766.85 325.4h0M796.58 391.24h0M794.87 337.25h0M823.98 454.33h0M851.52 527.82h0M767.02 341.71h0M807.18 315.52h0M954.18 555.12h0M852.7 529.03h0M901.26 489.56h0M954.79 574.43h0M797.95 357.12h0M930.06 547.58h0M876.23 416.91h0M898.84 578.3h0M871.87 477.69h0M916.47 469.94h0M834.78 370.4h0M829.84 326.65h0M852.27 529.33h0M754.19 289.44h0M855.25 534.01h0M853.58 376.63h0M941.05 487.88h0M867.71 432.7h0M788.86 378.87h0M916.32 543.22h0M874.49 385.2h0M882.73 376.62h0M851.47 376.32h0M845.48 457.41h0M756.85 273.91h0M873.53 416.48h0M890.42 443.51h0M750.54 325.82h0M836.32 366.52h0M880.56 440.83h0M815.85 366.52h0M857.55 441.43h0M875.12 507.63h0M819.67 306.7h0M862.31 548.01h0M896.05 560.04h0M908.28 454.34h0M900.78 543.74h0M835.77 438.41h0M889.97 413.55h0M865.45 425.5h0M773.28 278.94h0M927.58 467.28h0M767.68 313.51h0M825.93 374.67h0M807.24 371.62h0M780.55 269.3h0M806.04 401.28h0M913.15 485.53h0M837 449.19h0M853.45 324.05h0M918.61 530.58h0M797.79 296.28h0M883.07 542.95h0M932.44 576.34h0M935.72 552.53h0M912.66 433.08h0M831.49 440.97h0M799.1 394.87h0M778.57 352.53h0M864.02 494.68h0M870.74 414.15h0M859.85 432.03h0M795.15 346.09h0M876.65 412.39h0M893.25 458.56h0M856.14 433.65h0M837.32 489.85h0M812.71 411.46h0M949.29 560.42h0M881.5 394.95h0M772.93 332.94h0M872.92 395.16h0M802.66 303.87h0M824.46 418.68h0M813.07 415.91h0M893.16 497.5h0M834.05 356.59h0M895.97 432.63h0M880.46 410.53h0M826.56 321.16h0M905.14 434.42h0M794.38 327.9h0M946.68 574.5h0M806 400.93h0M802.72 398.39h0M947.97 494.93h0M834.44 499.07h0M844.91 390.56h0M850.87 429.1h0M900.45 495.08h0M850.93 419.67h0M857.98 444.19h0M898.57 412.61h0M854.38 384.09h0M862.54 513.36h0M771.49 269.22h0M775.9 312.79h0M884.72 390.43h0M746.48 329.86h0M944.46 577.25h0M941.07 549.38h0M916.31 466.61h0M859.47 434.01h0M883.18 445.17h0M794.68 424.1h0M770.88 337.53h0M775.4 327.88h0M934.91 559.9h0M933.82 496.77h0M925.32 543.75h0M875.49 542.62h0M801.28 313.95h0M809.55 339.68h0M883.86 538.22h0M851.9 426.07h0M794.12 378.28h0M896.14 428.36h0M828.27 379.11h0M859.62 350.65h0M851.97 435.35h0M845.82 348.72h0M943.97 545.5h0M912.79 592.55h0M922.26 468.71h0M877.91 502.29h0M878.53 373.33h0M832.49 415.52h0M815.47 335.94h0M805.33 290.96h0M885.36 497.56h0M916.44 448.37h0M888.51 403.53h0M837.61 491.72h0M754.5 315.99h0M927.17 477.83h0M876.06 452.41h0M882.06 477.74h0M939.73 577.23h0M868.38 420.38h0M868.43 451.98h0M884.52 424.37h0M816.06 290.19h0M854.91 399.58h0M874.75 407.98h0M879.96 520.69h0M939.39 579.06h0M915.01 492.25h0M891.95 461.53h0M835.65 475.36h0M842.63 307.06h0M894.36 397.06h0M891.66 400.43h0M803.7 316.4h0M951.95 572.37h0M829.68 402.65h0M939.9 550.49h0M872.99 513.62h0M837.6 366.15h0M915.12 529.59h0M937.81 566.09h0M934.27 566.98h0M791.1 386.48h0M821.67 296.48h0M822.05 344.01h0M772.27 354.5h0M857.46 346.6h0M870.8 499.87h0M787.16 292.35h0M793.29 422.87h0M796.88 302.39h0M885.51 490.22h0M829.3 483.84h0M900.71 450.74h0M883.4 407.03h0M830 343.28h0M880.6 443.62h0M857.84 330.9h0M810.44 324.29h0M812.98 360.26h0M936.07 497.66h0M904.01 485.11h0M910.14 421.64h0M817.17 310.22h0M908.48 458.59h0M931.33 549.57h0M855.15 520.31h0M854.96 426.71h0M793.95 339.79h0M915.15 496.93h0M752.61 308.31h0M901.71 427.63h0M870.44 465.82h0M939.62 585.06h0M830.97 430.75h0M810.19 377.88h0M836.52 494.16h0M873.09 484.01h0M800.58 396.59h0M816.6 369.54h0M853.6 471.58h0M855.89 494.55h0M894.7 427.99h0M837.6 422.05h0M889.85 464.86h0M859.19 355.57h0M822.93 402.04h0M869.83 463.71h0M842.54 331.22h0M792.6 299.93h0M828.62 427.23h0M814.91 284.37h0M834.94 361.38h0M867.3 442.98h0M875.22 491.99h0M876.48 559.76h0M900.77 526.34h0M874.38 396.18h0M897.59 446.9h0M804.57 394.67h0M937.32 573.45h0M926.42 551.09h0M767.47 305.47h0M906.85 483.21h0M909.02 541.49h0M865.94 485.69h0M767.81 322.62h0M796.35 413.34h0M819.93 345.55h0M904.83 557.79h0M800.32 330.98h0M923.35 508.39h0M796.64 314.98h0M807.58 291.06h0M936.59 495.64h0M905.45 394.38h0M944.89 500.26h0M838.86 310.03h0M839.52 457.03h0M828.81 488.53h0M936.48 519.67h0M852.33 436.75h0M825.25 344.69h0M827 407.46h0M897.6 417.16h0M873.87 372.5h0M898.72 571.16h0M927.03 497.09h0M857.77 522.97h0M793.14 302.22h0M943.65 525.65h0M836.42 402.67h0M929.76 574.21h0M891.05 400.46h0M814.05 420.84h0M783.63 318.73h0M806.69 338.27h0M769.84 329.13h0M881.21 406.87h0M924.33 458.71h0M796.07 281.58h0M831.45 428.6h0M903.5 427.1h0M836.67 496.61h0M881.75 449.84h0M903.73 558.29h0M783.4 271.8h0M899.41 520.6h0M931.72 536.86h0M796.75 300.15h0M800.37 315.69h0M871.4 401.59h0M787.86 327.97h0M879.62 512.02h0M865.91 357.43h0M895.6 554.03h0M860.79 464.64h0M939.11 535.87h0M866.5 442.92h0M901.53 538.23h0M888.95 408.07h0M918.87 427.96h0M850.49 453.89h0M841.24 376.95h0M875.94 425.75h0M770.61 266.88h0M902.76 577.44h0M854.24 457.8h0M813.71 398.39h0M806.39 295.38h0M867.61 436.3h0M918.77 537.9h0M936.33 522.65h0M772.87 302.41h0M882.11 524.73h0M834.18 476.36h0M926.91 590.6h0M887.9 528.01h0M900.43 542.74h0M919.86 562.21h0M863.19 549.01h0M860.39 494.2h0M873.3 551.78h0M943.8 560.25h0M894.19 542.29h0M889.73 518h0M840.29 507.63h0M826.93 463.36h0M929.32 575.53h0M872.88 504.5h0M917.01 589.41h0M908.97 561.46h0M885.42 501.25h0M882.16 548.72h0M853.8 482.59h0M881.68 502.58h0M938.79 564.43h0M866.67 509.79h0M888.09 522.13h0M871.75 517.5h0M909.49 523.39h0M860.8 475.07h0M938.47 544.21h0M839.73 483.07h0M903.09 578.08h0M842.23 465.84h0M869.09 558.01h0M877.35 501.27h0M893.52 506.39h0M924.13 559.7h0M870.99 502.49h0M924.23 560.91h0M888 569.51h0M926.53 578.94h0M849.68 516.61h0M869.93 515.36h0M849.18 468.2h0M904.96 544.88h0M897.14 529.79h0M888.45 521.68h0M932.15 566.65h0M878.9 557.95h0M887.25 531.76h0M852.65 475.65h0M850.81 511.73h0M877 489.11h0M914.72 552.57h0M925.31 583.62h0M925.32 529.97h0M933.47 565.08h0M822.04 475.41h0M905.21 522.92h0M911.37 560.81h0M860.73 473.76h0M945.99 554.33h0M908.2 544.7h0M939.34 564.11h0M948.22 569.63h0M847.64 506.88h0M907.34 590.3h0M910.84 535.04h0M948.19 565.35h0M922.26 551.88h0M861.4 488.45h0M896.35 536.25h0M884.12 562.16h0M884.07 521.26h0M892.05 551.74h0M871.82 528.88h0M848.6 508.98h0M868.6 491.38h0M844.12 459.27h0M850.81 474.48h0M860.51 496.39h0M923.6 546.8h0M887.02 569.68h0M911.53 556.77h0M833.43 484.84h0M835.65 475.29h0M886.74 548.21h0M857.04 522.59h0M853.54 526.31h0M816.68 464.46h0M825.93 455.74h0M905.02 523.68h0M911.28 573.3h0M929.11 576.71h0M870.91 505.8h0M862.06 513.1h0M869.82 505.34h0M912.79 532.11h0M925.22 551.89h0M821.99 472.8h0M886.57 525.68h0M902.83 579.75h0M887.58 564.75h0M929.04 575.38h0M918.76 555.52h0M900.1 572.6h0M931.87 548.89h0M858 491.09h0M952.24 570.89h0M865.53 478.73h0M889.86 542.95h0M932.65 572.28h0M929.24 563.6h0M933.18 568.35h0M933.52 547.63h0M858.24 507.49h0M945.96 565.51h0M859.64 505.49h0M852.09 481.43h0M915.52 582.71h0M950.2 568.29h0M753.16 287.8h0M758.53 286.07h0M787.19 364.19h0M782.1 331.89h0M828.02 452.52h0M854.57 466.82h0M765.63 279.99h0M840.4 408.44h0M760.87 312.9h0M770.97 305.09h0M773.61 316.15h0M830.15 453.49h0M835.66 443.63h0M779.23 277.62h0M821.06 441.44h0M804.29 297.55h0M842.96 465.62h0M787.36 346.65h0M816.49 359.49h0M853.72 406.82h0M836.21 377.83h0M803.68 322.38h0M850.73 426.94h0M811.12 339.02h0M853.48 465.73h0M800.8 321.23h0M840.22 408.89h0M796.83 364.5h0M860.85 435.72h0M856.3 414.61h0M784.21 383.04h0M758.94 275.25h0M796.01 321.15h0M762.16 287.61h0M754.85 276.8h0M761.35 312.25h0M860.95 406.41h0M764.15 307.64h0M820.09 363.27h0M806.58 317.58h0M807.96 367.23h0M862.58 412.27h0M844.29 434.45h0M762.68 302.99h0M809.13 389.04h0M831.24 449.6h0M828.69 415.49h0M804.26 323.8h0M753.29 333.36h0M803.06 393.72h0M820.9 376.15h0M771.71 335.82h0M793.79 294.16h0M839.31 388.3h0M799.95 391.43h0M788.36 350.12h0M760.69 317.33h0M765.19 336.82h0M804.22 353.03h0M767.19 334.48h0M833.54 426.19h0M787.81 318.16h0M756.43 323.65h0M797.33 387.18h0M829.87 374.57h0M770.78 278.35h0M821.91 428.83h0M792.31 391.99h0M792.71 396.74h0M800.57 284.49h0M816.91 428.29h0M791.39 319.81h0M831.58 437.39h0M803.49 361.42h0M865.22 428.28h0M847.29 409.44h0M807.53 349.1h0M760.87 326.73h0M815.59 316.94h0M788.82 314.69h0M822.66 350.39h0M867.53 435.87h0M836.1 461.04h0M778.96 290.6h0M850.71 446.86h0M876.77 426.54h0M781.87 322.24h0M805.08 396.4h0M798.01 353.05h0M806.46 373.78h0M850.43 430.11h0M785.41 298.4h0M775.14 330.99h0M777.98 312.14h0M750.62 320.2h0M759.91 313.93h0M810.29 331.86h0M825.3 373.05h0M856.55 416.73h0M778.99 309.48h0M795.01 277.7h0M786.9 346.39h0M793.74 272.15h0M773.1 306.75h0M786.84 288.04h0M825.34 389.58h0M847.17 397.36h0M861.04 408.07h0M765.59 309.81h0M826.77 329.99h0M822.1 363.58h0M854.4 431.33h0M845.1 409.54h0M769.76 303.74h0M783.05 319.66h0M766.07 334.13h0M863.27 437.47h0M800.19 389.04h0M760.34 296.63h0M822.09 353.28h0M810.72 370.08h0M792.73 406.6h0M762.12 293.66h0M874.31 433.58h0M869.63 445.29h0M758.66 273.07h0M821.38 342.21h0M833.45 410.3h0M862.95 451.36h0M815.59 337.72h0M757.83 305.36h0M847.11 448.78h0M780.95 313.23h0M791.74 393.62h0M770.46 286.35h0M819.17 313.31h0M850.07 409.2h0M810.7 418.67h0M816.6 426.56h0M793.13 319.35h0M862.46 441.5h0M833.59 452.24h0M794.69 347.06h0M774.86 322.6h0M809.64 394.54h0M773 328.29h0M806.1 308.96h0M839.87 456.08h0M776.18 298.17h0M826.42 381.37h0M837.28 425.08h0M850.51 454.93h0M758.21 298.9h0M789.12 274.98h0M844.53 450.59h0M836.48 461.9h0M812.56 365.22h0M858.39 463.16h0M843.76 402.69h0M785 286.56h0M844.03 394.25h0M860.48 462.01h0M795.37 382.12h0M853.23 415.81h0M845.85 448.79h0M764.86 269.48h0M817.88 318.55h0M832.23 385.97h0M838.16 356.62h0M863.72 414.91h0M902.87 461.59h0M784.48 262.59h0M881.05 448.05h0M937.14 501.37h0M772.72 293.3h0M830.83 375.07h0M790.09 307.63h0M810.71 343.53h0M879.15 410.27h0M789.18 353.3h0M897.01 449.16h0M811.47 373.14h0M826.19 368.19h0M801.86 379.31h0M888.1 466.22h0M838.78 374.15h0M872.16 419.62h0M907.05 457.47h0M937.72 488.22h0M826.92 386.37h0M793.33 314.84h0M940.93 507.61h0M796.32 326.12h0M793.07 331.99h0M801.22 363.43h0M796.47 304.74h0M871.77 416.69h0M810.45 384.75h0M773.98 267.54h0M775.11 323.12h0M797.67 369.95h0M783.26 325.23h0M872.56 432.45h0M805.71 354.3h0M786.04 269.59h0M784.58 288.68h0M871.31 451.48h0M808.08 348.38h0M891.9 452.11h0M832.81 380.9h0M855.61 427.89h0M806.25 303h0M759.62 244.58h0M950.75 498.26h0M762.32 276.56h0M804.79 327.71h0M915.36 473.77h0M803.06 349.59h0M884.12 417.39h0M781.02 302.95h0M878.71 402.71h0M861.22 449.1h0M785.19 333.76h0M810.33 325.62h0M922.69 488.94h0M803.52 366.58h0M806.01 340.9h0M898.83 452.22h0M836.26 397.07h0M779.47 275.72h0M871.56 430.73h0M917.16 488.08h0M783.54 354.79h0M856.51 401.75h0M788.85 333.36h0M882.65 402.12h0M843.97 405.34h0M760.5 280.73h0M794.84 368.46h0M896.95 419.41h0M800.92 293.27h0M854.72 434.49h0M915.33 473.79h0M758.79 291.1h0M858.09 429.89h0M786.56 276.08h0M813.62 336.65h0M776.68 289.48h0M902.33 440.05h0M814.64 342.63h0M792.93 348.22h0M776.66 273.06h0M757.38 291.56h0M789.46 276.7h0M923.02 478.11h0M894.72 414.32h0M868.16 420.45h0M847.95 380.97h0M805.12 356.45h0M761.25 306.66h0M775.34 283.43h0M923.21 486.3h0M932.47 497.97h0M827.09 401.33h0M876.76 459.67h0M800.8 336.22h0M758.42 288.18h0M888.42 456.79h0M839.31 374.22h0M766.08 287.99h0M934.49 486.45h0M765.09 274.87h0M806.3 385.25h0M815.13 362.11h0M832.32 396.42h0M786.57 347.3h0M911.59 465.49h0M811.52 356.16h0M867.43 415.33h0M933.68 494.76h0M879.28 408.21h0M839.76 372.92h0M890.4 447.02h0M927.84 477.61h0M821.36 363.48h0M928.82 487.54h0M764.52 272.64h0M885.73 453.13h0M862.91 414.15h0M851.76 405.49h0M791.83 295.1h0M859.88 408h0M908.35 461.79h0M918.47 495.14h0M817.53 396.34h0M783.19 307.14h0M778.91 332.91h0M810.62 379.69h0M902.55 452.03h0M930.79 499.15h0M776.18 283.17h0M760.8 289.15h0M915.33 474.26h0M838.27 410.53h0M805.43 360.02h0M813.01 350.99h0M798.35 360.76h0M764.71 312.61h0M758.69 288.38h0M840.33 375.47h0M932.38 480.94h0M892.01 441.22h0M916.02 490.27h0M933.93 494.9h0M761.19 260.35h0M876.27 408.91h0M783.6 328.62h0M818.53 358.64h0M873.2 459.81h0M767.8 247.93h0M805.09 350.02h0M791.42 364.8h0M777.46 259.93h0M870.66 441.67h0M859.1 413.5h0M761.23 299.57h0M905 464.58h0M781.63 291.71h0M763.45 284.42h0M915.32 481.9h0M850.56 411.78h0M828.46 363.98h0M779.23 280.34h0M947.13 503.83h0M919.88 494.25h0M861.97 421.8h0M874.24 410.23h0M855.59 401.25h0M860.97 414.8h0M934.2 491.58h0M777.77 265.53h0M780.87 285.49h0M773.51 258.64h0M843.53 420.72h0M807.98 364.03h0M839.59 278.49h0M859.03 339.05h0M844.62 319.3h0M859.76 316.98h0M865.41 301.3h0M843.82 302.2h0M850.51 329.77h0M861.79 295.14h0M857.14 322.64h0M856.46 331.06h0M853.08 289.48h0M850.02 344.4h0" stroke="#ff0000" stroke-width="16.4" stroke-linecap="round" fill="none"/>
<path d="M860.83 417.34h0M898.26 502.28h0M945.5 411.58h0M915.27 415.9h0M898.86 418.2h0M862 418.78h0M933.41 434.61h0M951.84 435.48h0M965.08 440.37h0M913.25 444.69h0M946.08 463.98h0M962.2 466.29h0M929.09 467.73h0M933.98 477.8h0M953.56 482.7h0M913.25 489.32h0M925.35 490.76h0M942.62 495.08h0M899.43 502.28h0M928.8 502.28h0M977.17 499.4h0M991.57 502.28h0M941.18 512.36h0M993.01 513.8h0M985.81 523.87h0M941.18 529.63h0M954.72 529.63h0M919.59 539.71h0M956.44 542.59h0M998.77 546.91h0M1004.53 556.99h0M932.85 566.58h0M983.97 564.48h0M1004.9 564.48h0M1001.91 571.96h0M993.54 579.43h0M951.09 584.51h0M1011.48 589h0M1039.28 598.86h0M1018.95 601.85h0M1038.38 604.84h0M936.74 606.34h0M944.21 607.83h0M948.7 618.3h0M1012.97 615.31h0M1027.92 621.29h0M1042.87 623.38h0M1017.46 627.26h0M1027.92 628.76h0M1018.95 634.74h0M968.13 632.35h0M986.07 638.33h0M983.08 646.7h0M966.63 649.09h0M1038.98 653.27h0M1066.78 650.58h0M1006.99 655.67h0M1017.46 664.63h0M997.43 673h0M1011.48 675.1h0M1041.37 670.61h0M1063.2 675.1h0M1087.71 678.09h0M961.55 677.49h0M1041.37 679.58h0M1047.35 685.56h0M1060.8 684.07h0M1017.46 692.44h0M1004 694.53h0M997.43 696.92h0M1089.2 694.53h0M1103.55 696.92h0M1051.84 697.52h0M1066.78 697.52h0M1074.26 706.49h0M1050.34 709.48h0M1093.69 706.49h0M1102.66 707.98h0M1001.01 715.46h0M1037.78 716.05h0M1080.24 719.94h0M1068.28 718.45h0M1092.19 721.43h0M1107.14 722.93h0M1062.3 725.92h0M1053.33 734.89h0M1033.9 736.38h0M1093.69 736.38h0M1114.62 739.37h0M1074.26 742.36h0M1051.84 748.34h0M1068.28 749.84h0M1074.26 752.83h0M1087.71 760.3h0M1105.65 756.41h0M1087.71 766.28h0M1102.66 773.75h0M1085.62 782.72h0M1145.12 671.67h0M1219.95 682.91h0M1240.83 674.88h0M1226.37 654.65h0M1260.74 654.01h0M1269.09 690.94h0M1256.88 715.03h0M1264.91 726.27h0M1231.19 719.84h0M1239.22 721.45h0M1194.26 708.6h0M1168.57 697.36h0M1131.63 705.39h0M1146.09 703.79h0M1160.54 710.21h0M1168.57 721.45h0M1128.42 724.66h0M1139.66 731.08h0M1155.72 732.69h0M1171.78 737.51h0M1186.23 723.06h0M1197.47 726.27h0M1207.11 726.27h0M1197.47 742.33h0M1211.92 743.93h0M1224.77 743.93h0M1236.01 739.11h0M1122 739.11h0M1125.21 751.96h0M1145.12 753.57h0M1166.96 761.59h0M1178.2 756.78h0M1189.44 761.59h0M1199.08 759.99h0M1226.37 761.59h0M1234.4 764.81h0M1126.82 764.81h0M1138.06 777.65h0M1152.51 772.83h0M1165.36 777.65h0M1176.6 782.47h0M1187.84 774.44h0M1211.92 780.86h0M1223.16 787.29h0M1234.4 787.29h0M1124.57 788.89h0M1155.72 795.32h0M1174.99 792.1h0M1208.07 795.32h0M865.84 235.98h0M890.76 232.99h0M866.24 264.88h0M890.76 264.88h0M881.79 277.84h0M893.75 280.83h0M913.68 282.82h0M921.65 290.79h0M884.78 293.78h0M899.73 295.78h0M909.7 296.77h0M858.87 300.76h0M881.79 307.74h0M865.84 311.72h0M855.88 317.7h0M890.76 313.72h0M906.71 309.73h0M923.65 313.72h0M927.63 317.7h0M878.8 327.67h0M850.89 332.65h0M900.73 329.66h0M913.68 331.65h0M925.64 335.64h0M937.6 333.65h0M823.99 335.64h0M897.74 338.63h0M903.72 347.6h0M911.69 349.59h0M862.85 354.58h0M873.82 351.59h0M885.78 359.56h0M893.75 362.55h0M905.71 367.53h0M916.67 359.56h0M933.61 365.54h0M872.82 376.5h0M879.8 373.51h0M916.67 379.49h0M941.59 382.48h0M870.83 387.46h0M885.78 387.46h0M898.73 392.45h0M917.67 389.46h0M925.64 399.42h0M888.77 403.41h0M954.54 397.43h0M944.58 408.39h0M1113.79 700.43h0M1114.89 723.74h0M1117.57 725.92h0M1142.36 737.98h0M1144.63 774.83h0M1168.91 771.48h0M1120.87 721.52h0M1111.89 706.35h0M1093.06 710.22h0M1130.38 729.01h0M1199.26 716.47h0M1167.39 751.81h0M1141.45 742.77h0M1205.98 709.84h0M1113.69 713.36h0M1176.35 747.99h0M1099.12 726.64h0M1195.93 730h0M1193.18 718.68h0M1167.39 714.43h0M1202.67 703.64h0M1098.8 702.49h0M1201.44 715.2h0M1133.93 732.84h0M1105.52 718.48h0M1138.7 704.96h0M1230.52 485.39h0M1269.54 561.32h0M1256.71 538.67h0M1265.77 529.31h0M1253.2 551.7h0M1253.77 533.55h0M1250.68 536.23h0M1232.56 487.71h0M1264.37 559.47h0M1235.51 510.35h0M1219.7 482.65h0M1268.65 570.04h0M1260.63 536.3h0M1246.34 533.2h0M1219.56 479.74h0M1262.8 572.08h0M1251.78 506.61h0M1259.81 572.59h0M1248.06 562.03h0M1262.92 548.44h0M1244.88 504.64h0M1274.97 593.83h0M1242.99 501.69h0M1245.56 553.62h0M1249.39 520.74h0M1239.03 521.29h0M1257.33 553.22h0M1263.93 531.78h0M1254.62 537.81h0M1244.33 538.47h0M1248.33 547.28h0M1269.15 562.32h0M1242.05 534.64h0M1237.4 507.95h0M1233.38 498.52h0M1243.68 548.81h0M1251.97 554.51h0M1271.81 558.71h0M1227.59 492.88h0M1223.66 498.02h0M1274.67 599.27h0M1260.87 524.1h0M1258.49 549.02h0M1253.44 548.94h0M1230.61 492.1h0M1263.78 579.69h0M1250.7 499.07h0M1266.53 582.32h0M1273.88 609.37h0M1237.22 518.53h0M1243.37 519.3h0M1263.44 585.32h0M1247.74 513.65h0M1258.76 553.56h0M1229.36 512.5h0M1229.15 477.24h0M1246.81 506.28h0M1241.82 537.03h0M1237.66 532.82h0M1252.6 557.85h0M1247.05 521.97h0M1273.97 586.71h0M1228.45 500.21h0M1267.59 553.23h0M1255.58 519.54h0M1248.45 542.38h0M1244.34 551.18h0M1266.94 583.33h0M1267.51 545.94h0M1252.55 519.91h0M1272.11 545.66h0M1266.88 564.11h0M1259.45 578.72h0M1276.04 589.19h0M1275.7 614.87h0M1273.28 550.74h0M1218.85 477.49h0M1249.09 543.42h0M1260.33 582.37h0M1269.43 596.97h0M1254.99 530.13h0M1225.03 480.46h0M1254.44 553.98h0M1259.93 591.66h0M1242.25 537.45h0M1261.8 551.07h0M1272.15 542.08h0M1264.56 556.7h0M1256.38 573.1h0M1249.6 521.93h0M1252.54 533.49h0M1256.94 575.76h0M1223.73 482.75h0M1242.17 522.04h0M1265.89 538.65h0M1300.27 608.34h0M1285.19 544.68h0M1268.24 562.88h0M1284.7 598.81h0M1274.9 583.9h0M1320.66 532.64h0M1294.98 595.36h0M1276.17 584.61h0M1290.01 577.69h0M1302.89 576.73h0M1332.39 536.19h0M1284.93 594.95h0M1285.63 584.42h0M1326.97 549.18h0M1292.9 618.12h0M1307.33 548.2h0M1287.22 534.79h0M1279.26 598h0M1322.41 603.95h0M1321.14 579.29h0M1282.98 612.14h0M1315.94 554.71h0M1319.44 602.44h0M1317.96 565.2h0M1275.37 553.02h0M1322.54 577.62h0M1319.75 555.36h0M1313.31 548.4h0M1292.83 534.08h0M1331.2 553.4h0M1317.79 545.1h0M1315.47 608.41h0M1287.87 569.45h0M1320.78 525.71h0M1324.81 548.16h0M1321.72 565.14h0M1298.18 577.26h0M1281.11 540.88h0M1314.05 591.79h0M1307.98 591.44h0M1322.55 541.51h0M1328.19 547.27h0M1295.83 626.42h0M1308.16 570.89h0M1296.43 549.75h0M1327.5 599.08h0M1288.9 577.61h0M1298.66 557.47h0M1266.69 590.4h0M1318.38 606.82h0M1303.25 554.48h0M1326.59 521.66h0M1276.51 564.56h0M1321.66 569.08h0M1270.63 560.54h0M1278.68 541.26h0M1330.32 588.41h0M1297.65 556.26h0M1297.98 528.03h0M1305.57 598.19h0M1292.3 561.87h0M1302.13 601.88h0M1304.06 582.46h0M1281.46 567.74h0M1324.94 543.19h0M1273.6 602.49h0M1305.66 537.36h0M1294.3 539.19h0M1290.15 600.96h0M1311.01 578.2h0M1315.29 523.02h0M1328.92 556.82h0M1290.13 629.3h0M1301.59 544.99h0M1325.46 585.23h0M1330.74 548.24h0M1288.92 621.37h0M1281.39 589.63h0M1295.62 542.6h0M1291.64 561.94h0M1283.01 617.15h0M1331.7 551.19h0M1281.64 544.03h0M1301.22 550.96h0M1316.67 548.49h0M1281.4 562.36h0M1302.23 596.39h0M1277.19 586.37h0M1325.94 518.3h0M1278.88 570.3h0M1299.36 598.84h0M1293.77 613.57h0M1298.06 547.86h0M1305.24 613.95h0M1284.07 537.88h0M1298.2 552.82h0M1302.22 606.32h0M1312.85 608.85h0M1310.09 555.05h0M1300.23 616.99h0M1281.34 604.98h0M1305.82 529.38h0M1272.23 592.55h0M1303.93 616.95h0M1310.39 543.45h0M1320.93 570.15h0M1309.27 534.88h0M1290.29 542.9h0M1291.71 597.23h0M1294.71 532.78h0M1306.88 528.27h0M1321.95 585.37h0M1285.86 535.76h0M1321.04 546.25h0M1325.6 566.04h0M1296 541.87h0M1293.45 537.38h0M1297.47 607.2h0M1287.65 552.74h0M1284.68 536.98h0M1292.27 554.85h0M1326.84 587.95h0M1324.87 599.7h0M1273.75 578.77h0M1330.05 553.1h0M1328.23 572.1h0M1293.51 557.44h0M1275.75 570.55h0M1287.23 589.6h0M1316.86 588.32h0M1308.16 466h0M1269.01 566.34h0M1299.52 549.6h0M1300.5 502.42h0M1250.96 487.4h0M1339.06 452.86h0M1257.47 518.08h0M1332.15 545.88h0M1271.68 519.74h0M1331.94 442.53h0M1309.8 473.23h0M1242.26 527.23h0M1265.31 578.54h0M1300.38 422.58h0M1260.9 479.81h0M1304.24 447.88h0M1319.31 583.34h0M1303.47 447.63h0M1321.09 586.07h0M1286.85 487.68h0M1282.78 524.97h0M1265.65 486.55h0M1253.93 501.42h0M1281.93 457.96h0M1259.15 533.19h0M1283.01 445.1h0M1327.49 486.29h0M1318.15 483.95h0M1289.31 557.78h0M1289.14 455.81h0M1278.41 565.44h0M1285.61 560.82h0M1316.13 488.94h0M1250.9 550.24h0M1337.41 446.77h0M1309.72 556.81h0M1336.69 455.21h0M1316.45 579.33h0M1281.51 484.15h0M1254.39 498.2h0M1238.34 479.91h0M1227.73 487.27h0M1299.35 557.01h0M1314.62 503.09h0M1320.84 427.85h0M1302.69 516.07h0M1267.42 489.11h0M1281.31 455.83h0M1283.32 441.57h0M1289.19 485.48h0M1312.62 461.47h0M1298.43 492.54h0M1320.81 530.53h0M1223.36 474.34h0M1327.97 556.66h0M1316.06 546.49h0M1323.72 582.45h0M1261.17 481.28h0M1244.41 538.59h0M1274.32 555.64h0M1267.05 547.62h0M1319.5 589.46h0M1242.85 486.61h0M1220.77 474.04h0M1322.9 472.03h0M1323.53 440.52h0M1300.86 567.08h0M1248.18 521.47h0M1252.7 543.26h0M1234.94 505.51h0M1315.28 571.04h0M1283.95 575.44h0M1222.78 492.58h0M1269.71 463.05h0M1304.07 479.83h0M1275.44 432.47h0M1279.37 541.15h0M1276.37 422.52h0M1307.46 463.35h0M1285.77 445.58h0M1221.9 487h0M1236.97 487.98h0M1287.93 479.51h0M1324.69 527.11h0M1236.75 529.42h0M1314.35 583.16h0M1239.31 485.69h0M1243.26 490.71h0M1339.59 466.9h0M1230.33 511.78h0M1322.94 580.61h0M1272.12 575.73h0M1285.88 582.66h0M1283.24 510.15h0M1300.98 561.62h0M1330.78 496.95h0M1279.19 517.72h0M1332.16 460.69h0M1253.11 540.89h0M1330.34 535.48h0M1277.45 466.78h0M1326.25 434.16h0M1229.66 488.13h0M1313.71 442.75h0M1267.41 516.09h0M1326.62 493.99h0M1291.04 551.17h0M1278.36 515.27h0M1275.66 541.15h0M1285.52 520.46h0M1329.73 539.97h0M1303.21 547.26h0M1256.27 480.87h0M1290.65 555.73h0M1253.44 483.31h0M1289.19 557.81h0M1326.14 431.57h0M1305.38 590.1h0M1278.33 574.52h0M1302.19 538.42h0M1327.18 450.56h0M1238.18 533.88h0M1323.91 529.17h0M1300.79 548.03h0M1277.54 446.29h0M1281.5 535.64h0M1322.42 495.15h0M1305.19 498.42h0M1289.97 434.16h0M1306.78 574.72h0M1297.6 512.84h0M1323.1 564.06h0M1273.96 423.44h0M1303.23 464.92h0M1329.05 553.69h0M1272.12 501.33h0M1320.63 572.57h0M1240 470.05h0M1318.41 514.38h0M1247.08 515.12h0M1325.32 521.96h0M1234.82 494.36h0M1248.34 494.7h0M1322.54 485.46h0M1245.59 506.4h0M1243.21 502.39h0M1280.05 531.85h0M1264.52 569.35h0M1282.04 498.01h0M1296.35 588.1h0M1273.49 480.11h0M1244.99 539.25h0M1288.42 484.48h0M1286.52 462.59h0M1270.8 436.81h0M1247.62 498.09h0M1249.42 501.13h0M1248.84 527.21h0M1301.86 512.87h0M1325.23 503.59h0M1283.47 470.03h0M1244.38 524.35h0M1236.32 486.7h0M1295.01 568.45h0M1297.98 504.23h0M1306.1 571.58h0M1311.09 576.09h0M1278.47 535.47h0M1280.69 448.29h0M1316.28 507.67h0M1268.91 553.69h0M1274.03 492h0M1297.4 554.28h0M1269.28 570.77h0M1332.69 482.63h0M1342.1 466.23h0M1315.06 470.86h0M1287.16 587.67h0M1305.49 577.42h0M1290.91 518.93h0M1313.59 520.88h0M1294.9 500.06h0M1324.99 574.16h0M1286.54 425.53h0M1338.21 447.87h0M1251.44 486.51h0M1267.06 540.07h0M1242.18 525.01h0M1268.72 513.8h0M1287.71 502.22h0M1243.41 516.77h0M1274.53 477.15h0M1280.9 576.22h0M1284.16 584.86h0M1285.35 432.83h0M1286.69 489.2h0M1221.41 475.21h0M1285.89 439.53h0M1316.33 484.03h0M1313.98 520.95h0M1254.11 488.36h0M1304.26 503.44h0M1299.09 571.53h0M1242.59 474.83h0M1225.26 494.17h0M1227.41 489.02h0M1255.4 536.82h0M1272.89 459.57h0M1333.27 454.19h0M1290.75 478.46h0M1327.53 467.37h0M1301.6 579.2h0M1241.25 538.24h0M1284.67 526.21h0M1289.52 555.21h0M1274.86 422.75h0M1306.38 589.54h0M1294.91 542.62h0M1251.49 491.2h0M1237.67 532.94h0M1317.3 453.21h0M1294.9 577.93h0M1305.76 458.41h0M1318 523.25h0M1304.33 513.36h0M1304.8 506.47h0M1276.15 517.09h0M1278.55 433.74h0M1329.48 444.49h0M1316.51 487.02h0M1248.75 522.14h0M1268.69 498.6h0M1322.54 437.5h0M1277.16 447.45h0M1339.62 480.71h0M1290.48 462.8h0M1272.02 510.39h0M1267.17 543.56h0M1308.77 512.94h0M1325.55 549.91h0M1247.57 478.88h0M1290.75 492.63h0M1299.86 443.93h0M1300.34 486.86h0M1329.43 485.89h0M1326.95 552.96h0M1303.3 574.37h0M1323.47 577.92h0M1314.87 566.89h0M1285.1 529.66h0M1279.26 540.97h0M1224.92 479.76h0M1325.34 584.46h0M1294.62 575.96h0M1249.13 483.01h0M1252.55 525.14h0M1281.1 551.28h0M1279.99 507.55h0M1322.92 441.76h0M1241.25 520.6h0M1302.37 431.03h0M1331.57 580.3h0M1338.78 472.59h0M1317.14 555.64h0M1258.46 540.38h0M1299.34 530.18h0M1332.23 456.65h0M1329.18 482.86h0M1281.09 546.17h0M1337.78 462.22h0M1300.28 406.57h0M1328.47 465.63h0M1290.9 440.55h0M1330.06 477.88h0M1300.45 483.14h0M1322.36 451.02h0M1308.46 489.16h0M1294.53 492.93h0M1322.02 445.67h0M1290.18 432.82h0M1266.27 385.85h0M1290.76 415.82h0M1334.63 490.72h0M1304.01 457.36h0M1287.74 393.04h0M1322.29 506.58h0M1293.43 492.76h0M1276.3 418.43h0M1292.66 413.96h0M1314.84 405.49h0M1298.21 474.99h0M1314.04 453.19h0M1340.62 456.55h0M1291.67 487.51h0M1266.81 431.74h0M1335.51 451.03h0M1289.31 423.96h0M1275.55 422.18h0M1290.73 459.44h0M1287.49 482.2h0M1338.39 464.9h0M1332.64 499.18h0M1274.46 434.81h0M1285.9 440.69h0M1304.46 457.51h0M1272.01 459.77h0M1323.16 444.68h0M1272.32 414.09h0M1276.45 428.88h0M1334.81 477.21h0M1309.88 389.28h0M1332.45 455.06h0M1336.34 461.84h0M1278.8 388.82h0M1323.43 492.27h0M1278.92 452.65h0M1325.7 428.08h0M1313.25 424.1h0M1315.18 414.5h0M1288.6 476.46h0M1294.85 494.02h0M1306.1 481.96h0M1273.16 456.96h0M1292.17 392.45h0M1296.02 476.44h0M1280.07 466.71h0M1312.58 480.14h0M1281.02 410.68h0M1282.3 416.72h0M1277.29 421.46h0M1267.72 382.74h0M1323.21 505.24h0M1294.02 423.25h0M1290.84 413.62h0M1289.46 385.01h0M1308.01 499.51h0M1304.81 469.2h0M1323.33 506.44h0M1311.92 479.28h0M1272.57 402.93h0M1303.59 385.9h0M1306.54 399.97h0M1307.17 422.14h0M1330.63 502.75h0M1319.79 464.87h0M1327.38 461.09h0M1304.34 415.75h0M1331.22 510.97h0M1324.88 437.09h0M1282.8 418.13h0M1317 405.71h0M1307.4 475.92h0M1309.11 484.4h0M1293.6 392.56h0M1335.03 453.66h0M1280.59 463.85h0M1302.41 395.06h0M1315.34 400.33h0M1309.94 465.13h0M1293.52 452.15h0M1273.29 463.11h0M1331.71 453.37h0M1319.9 494.73h0M1294.65 474.18h0M1319.08 477.43h0M1298.12 394.63h0M1291.42 389.44h0M1332.13 462.52h0M1305.97 493.9h0M1308.05 410.63h0M1329.52 476.37h0M1270.41 383.35h0M1329.91 481.15h0M1298.87 494.45h0M1293.44 483.25h0M1342.31 477.29h0M1302.61 425.94h0M1277.45 466.58h0M1276.61 435.95h0M1322.01 428h0M1336.69 456.48h0M1311.83 480.67h0M1303.69 386.31h0M1325.32 436h0M1288.06 435.41h0M1312.9 402.41h0M1330.73 443.9h0M1291.97 392.29h0M1331.31 481.91h0M1314.26 410.7h0M1310.9 468.08h0M1291.29 410.19h0M1273.72 443.29h0M1296.98 466.96h0M1309.41 423.65h0M1337.02 487.18h0M1285.68 456.73h0M1323.13 501.26h0M1293.59 477.8h0M1312.8 428.14h0M1273.96 364.03h0M1281.72 397.07h0M1288.81 404.57h0M1271.57 356.85h0M1287.64 355.11h0M1287.42 411.9h0M1292.47 417.36h0M1309.11 386.68h0M1275.53 393.56h0M1294.18 397.81h0M1289.87 328.69h0M1308.78 375.16h0M1310.18 388.56h0M1287.03 383.9h0M1284.87 350.24h0M1284.81 368.57h0M1294.88 348.13h0M1308.79 406.05h0M1307.84 377.68h0M1297.18 411.71h0M1321.59 413.13h0M1312.45 379.84h0M1285.24 373.67h0M1282.85 384.49h0M1279.5 404.94h0M1272.81 389.77h0M1316.53 406.35h0M1310.86 408.43h0M1311.57 379.36h0M1283.86 386.21h0M1269.52 384.84h0M1265.77 410.06h0M1272.75 380.2h0M1291.12 372.14h0M1282.41 392.17h0M1281.07 407.26h0M1300.94 340.94h0M1300.78 347.07h0M1271.18 406.17h0M1289.87 384.2h0M1266.33 414.66h0M1275.72 390.18h0M1270.66 353.72h0M1286.49 416.97h0M1316.08 407.41h0M1276.69 397.45h0M1292.94 334.14h0M1309.51 371.11h0M1290.08 372.53h0M1274.45 330.59h0M1294.8 381.93h0M1283.57 359.15h0M1292.22 400.05h0M1286.37 375.35h0M1304.97 407.17h0M1321.45 409.36h0M1269.94 347.55h0M1284.96 415.36h0M1300.57 411.7h0M1280.14 320.82h0M1268.89 397.58h0M1313.57 412.76h0M1312.86 412.91h0M1293 340.75h0M1279.05 384.7h0M1286.64 388.94h0M1291.08 399.95h0M1303.19 406.66h0M1276.36 337.59h0M1303.42 415.77h0M1300.76 414.21h0M1302.81 418.29h0M1278.54 399.99h0M1281.28 363.74h0M1311.89 414.65h0M1279.24 341.41h0M1275.44 355.89h0M1285.92 395.81h0M1272.6 398.1h0M1294.47 399.92h0M1272.66 419.1h0M1279.94 345.54h0M1290.32 348.04h0M1300.43 376.32h0M1272.53 353.3h0M1299.78 391.54h0M1307.72 409.63h0M1300.22 360.33h0M1271.74 341.06h0M1276.01 383.65h0M1277.19 401.57h0M1293.28 361.03h0M1295.32 334.54h0M1290.38 336.02h0M1286.24 410.11h0M1282.66 419.26h0M1274.62 356.47h0M1294.83 382.03h0M1274.95 400.21h0M1273.35 392.05h0M1280.61 393.14h0M1313.81 394.07h0M1285.56 354.67h0M1321.8 412.32h0M1269.16 405.23h0M1311 407.1h0M1297.28 365.27h0M1310.79 390h0M1297.68 404.01h0M1288.84 395.38h0M1283.12 334.7h0M1269.09 390.72h0M1272.97 387.6h0M1277.23 362.58h0M1312.98 386.93h0M1268.4 310.5h0M1247.9 355.1h0M1257.2 360.9h0M1318.8 364.4h0M1325.8 416.7h0M1220 430.7h0M1195.6 444.7h0M1208.4 444.7h0M1200.2 455.1h0M1224.7 452.8h0M1238.6 444.7h0M1252.6 436.5h0M1259.5 445.8h0M1236.3 466.7h0M1217.7 477.2h0M1228.1 485.3h0M1196.7 446h0M1199.7 455h0M1216.2 478.9h0M1183.3 557.5h0M1199.7 567.1h0M1210.2 559.6h0M1219.2 571.6h0M1226.6 547.7h0M1231.1 559.6h0M1241.6 568.6h0M1241.6 583.5h0M1249 603h0M1258 619.4h0M1226.6 507.3h0M1217.7 522.2h0M1226.6 528.2h0M1219.9 521.9h0M1347 484h0M1347 510.6h0M1344.3 554.4h0M1336.4 583.7h0M1339 599.6h0M1332.4 607.6h0M1284.5 635.5h0M1295.1 635.5h0M1321.7 626.2h0M1323 636.9h0" stroke="#0000ff" stroke-width="16.4" stroke-linecap="round" fill="none"/>
</g>
<rect x="1063.1" y="74.4" width="336.1" height="109.2" rx="4" ry="4" fill="#fff" fill-opacity="0.8" stroke="#ccc" stroke-opacity="0.8" stroke-width="2.08"/>
<circle cx="1095.7" cy="94.9" r="8.2" fill="#008000"/>
<circle cx="1095.7" cy="129" r="8.2" fill="#ff0000"/>
<circle cx="1095.7" cy="163.4" r="8.2" fill="#0000ff"/>
<text transform="matrix(0.26865 0 0 0.24444 1137.09 101.67)" font-family="Liberation Sans, sans-serif" font-weight="bold" font-size="100">Apoenzyme</text>
<text transform="matrix(0.27267 0 0 0.23784 1136.81 135.66)" font-family="Liberation Sans, sans-serif" font-weight="bold" font-size="100">Control</text>
<text transform="matrix(0.27638 0 0 0.24362 1136.77 170.18)" font-family="Liberation Sans, sans-serif" font-weight="bold" font-size="100">Dihydroergotamine</text>
<rect x="147.8" y="62.8" width="182.8" height="183.1" fill="none" stroke="#000" stroke-width="2.0"/>
<path d="M188.99 245.9v8.3M286.32 245.9v8.3M147.8 97.29h-8.3M147.8 170.52h-8.3M147.8 243.76h-8.3" stroke="#000" stroke-width="2.0" fill="none"/>
<text transform="matrix(0.27000 0 0 0.24714 115.49 105.84)" font-family="Liberation Sans, sans-serif" font-weight="bold" font-size="100">5</text>
<text transform="matrix(0.28936 0 0 0.24366 115.04 179.08)" font-family="Liberation Sans, sans-serif" font-weight="bold" font-size="100">0</text>
<text transform="matrix(0.29252 0 0 0.24714 97.33 252.31)" font-family="Liberation Sans, sans-serif" font-weight="bold" font-size="100">−5</text>
<text transform="matrix(0.29503 0 0 0.24648 164.32 280.65)" font-family="Liberation Sans, sans-serif" font-weight="bold" font-size="100">−10</text>
<text transform="matrix(0.29787 0 0 0.24648 277.81 280.65)" font-family="Liberation Sans, sans-serif" font-weight="bold" font-size="100">0</text>
<text transform="matrix(0 -0.24891 0.24859 0 84.15 181.24)" font-family="Liberation Sans, sans-serif" font-weight="bold" font-size="100">PC2</text>
<text transform="matrix(0.32306 0 0 0.28556 147.93 49.70)" font-family="Liberation Sans, sans-serif" font-weight="bold" font-size="100">Apoenzyme</text>
<text transform="matrix(0.59107 0 0 0.43085 2.34 41.25)" font-family="Liberation Sans, sans-serif" font-weight="bold" font-size="100">(a)</text>
<rect x="147.8" y="355.7" width="182.8" height="183.1" fill="none" stroke="#000" stroke-width="2.0"/>
<path d="M188.99 538.8v8.3M286.32 538.8v8.3M147.8 390.19h-8.3M147.8 463.42h-8.3M147.8 536.66h-8.3" stroke="#000" stroke-width="2.0" fill="none"/>
<text transform="matrix(0.27000 0 0 0.24714 115.49 398.74)" font-family="Liberation Sans, sans-serif" font-weight="bold" font-size="100">5</text>
<text transform="matrix(0.28936 0 0 0.24366 115.04 471.98)" font-family="Liberation Sans, sans-serif" font-weight="bold" font-size="100">0</text>
<text transform="matrix(0.29252 0 0 0.24714 97.33 545.21)" font-family="Liberation Sans, sans-serif" font-weight="bold" font-size="100">−5</text>
<text transform="matrix(0.29503 0 0 0.24648 164.32 573.55)" font-family="Liberation Sans, sans-serif" font-weight="bold" font-size="100">−10</text>
<text transform="matrix(0.29787 0 0 0.24648 277.81 573.55)" font-family="Liberation Sans, sans-serif" font-weight="bold" font-size="100">0</text>
<text transform="matrix(0 -0.24891 0.24859 0 84.15 474.14)" font-family="Liberation Sans, sans-serif" font-weight="bold" font-size="100">PC2</text>
<text transform="matrix(0.32500 0 0 0.29054 181.50 342.31)" font-family="Liberation Sans, sans-serif" font-weight="bold" font-size="100">Control</text>
<text transform="matrix(0.57458 0 0 0.43085 2.23 334.15)" font-family="Liberation Sans, sans-serif" font-weight="bold" font-size="100">(b)</text>
<rect x="147.8" y="648.6" width="182.8" height="183.1" fill="none" stroke="#000" stroke-width="2.0"/>
<path d="M188.99 831.7v8.3M286.32 831.7v8.3M147.8 683.09h-8.3M147.8 756.32h-8.3M147.8 829.56h-8.3" stroke="#000" stroke-width="2.0" fill="none"/>
<text transform="matrix(0.27000 0 0 0.24714 115.49 691.64)" font-family="Liberation Sans, sans-serif" font-weight="bold" font-size="100">5</text>
<text transform="matrix(0.28936 0 0 0.24366 115.04 764.88)" font-family="Liberation Sans, sans-serif" font-weight="bold" font-size="100">0</text>
<text transform="matrix(0.29252 0 0 0.24714 97.33 838.11)" font-family="Liberation Sans, sans-serif" font-weight="bold" font-size="100">−5</text>
<text transform="matrix(0.29503 0 0 0.24648 164.32 866.45)" font-family="Liberation Sans, sans-serif" font-weight="bold" font-size="100">−10</text>
<text transform="matrix(0.29787 0 0 0.24648 277.81 866.45)" font-family="Liberation Sans, sans-serif" font-weight="bold" font-size="100">0</text>
<text transform="matrix(0 -0.24891 0.24859 0 84.15 767.04)" font-family="Liberation Sans, sans-serif" font-weight="bold" font-size="100">PC2</text>
<text transform="matrix(0.33146 0 0 0.29149 86.68 634.68)" font-family="Liberation Sans, sans-serif" font-weight="bold" font-size="100">Dihydroergotamine</text>
<text transform="matrix(0.55982 0 0 0.43085 2.30 627.05)" font-family="Liberation Sans, sans-serif" font-weight="bold" font-size="100">(c)</text>
<text transform="matrix(0.24973 0 0 0.24085 214.15 897.46)" font-family="Liberation Sans, sans-serif" font-weight="bold" font-size="100">PC1</text>
<defs><linearGradient id="vg" x1="0" y1="0" x2="0" y2="1"><stop offset="0" stop-color="#fde725"/><stop offset="0.02" stop-color="#f6e620"/><stop offset="0.03" stop-color="#ece51b"/><stop offset="0.05" stop-color="#e2e418"/><stop offset="0.06" stop-color="#d8e219"/><stop offset="0.08" stop-color="#cde11d"/><stop offset="0.09" stop-color="#c2df23"/><stop offset="0.11" stop-color="#b8de29"/><stop offset="0.12" stop-color="#addc30"/><stop offset="0.14" stop-color="#a2da37"/><stop offset="0.16" stop-color="#98d83e"/><stop offset="0.17" stop-color="#8ed645"/><stop offset="0.19" stop-color="#84d44b"/><stop offset="0.2" stop-color="#7ad151"/><stop offset="0.22" stop-color="#70cf57"/><stop offset="0.23" stop-color="#67cc5c"/><stop offset="0.25" stop-color="#5ec962"/><stop offset="0.27" stop-color="#56c667"/><stop offset="0.28" stop-color="#4ec36b"/><stop offset="0.3" stop-color="#46c06f"/><stop offset="0.31" stop-color="#3fbc73"/><stop offset="0.33" stop-color="#38b977"/><stop offset="0.34" stop-color="#32b67a"/><stop offset="0.36" stop-color="#2db27d"/><stop offset="0.38" stop-color="#28ae80"/><stop offset="0.39" stop-color="#25ab82"/><stop offset="0.41" stop-color="#22a785"/><stop offset="0.42" stop-color="#20a386"/><stop offset="0.44" stop-color="#1fa088"/><stop offset="0.45" stop-color="#1e9c89"/><stop offset="0.47" stop-color="#1f988b"/><stop offset="0.48" stop-color="#1f948c"/><stop offset="0.5" stop-color="#21918c"/><stop offset="0.52" stop-color="#228d8d"/><stop offset="0.53" stop-color="#23898e"/><stop offset="0.55" stop-color="#25858e"/><stop offset="0.56" stop-color="#26828e"/><stop offset="0.58" stop-color="#277e8e"/><stop offset="0.59" stop-color="#297a8e"/><stop offset="0.61" stop-color="#2a768e"/><stop offset="0.62" stop-color="#2c728e"/><stop offset="0.64" stop-color="#2e6f8e"/><stop offset="0.66" stop-color="#2f6b8e"/><stop offset="0.67" stop-color="#31678e"/><stop offset="0.69" stop-color="#33638d"/><stop offset="0.7" stop-color="#355f8d"/><stop offset="0.72" stop-color="#375b8d"/><stop offset="0.73" stop-color="#39568c"/><stop offset="0.75" stop-color="#3b528b"/><stop offset="0.77" stop-color="#3d4e8a"/><stop offset="0.78" stop-color="#3e4989"/><stop offset="0.8" stop-color="#404588"/><stop offset="0.81" stop-color="#424086"/><stop offset="0.83" stop-color="#443b84"/><stop offset="0.84" stop-color="#453781"/><stop offset="0.86" stop-color="#46327e"/><stop offset="0.88" stop-color="#472d7b"/><stop offset="0.89" stop-color="#482878"/><stop offset="0.91" stop-color="#482374"/><stop offset="0.92" stop-color="#481d6f"/><stop offset="0.94" stop-color="#48186a"/><stop offset="0.95" stop-color="#471365"/><stop offset="0.97" stop-color="#470d60"/><stop offset="0.98" stop-color="#46075a"/><stop offset="1" stop-color="#440154"/></linearGradient></defs>
<rect x="392.5" y="62.7" width="35.1" height="768.7" fill="url(#vg)" stroke="#000" stroke-width="2.0"/>
<text transform="matrix(0.30851 0 0 0.24789 443.17 840.95)" font-family="Liberation Sans, sans-serif" font-weight="bold" font-size="100">0</text>
<text transform="matrix(0.28750 0 0 0.24789 443.54 687.21)" font-family="Liberation Sans, sans-serif" font-weight="bold" font-size="100">20</text>
<text transform="matrix(0.28476 0 0 0.24789 443.83 533.47)" font-family="Liberation Sans, sans-serif" font-weight="bold" font-size="100">40</text>
<text transform="matrix(0.29029 0 0 0.24789 443.24 379.73)" font-family="Liberation Sans, sans-serif" font-weight="bold" font-size="100">60</text>
<text transform="matrix(0.28750 0 0 0.24789 443.54 225.99)" font-family="Liberation Sans, sans-serif" font-weight="bold" font-size="100">80</text>
<text transform="matrix(0.28981 0 0 0.24789 444.06 72.25)" font-family="Liberation Sans, sans-serif" font-weight="bold" font-size="100">100</text>
<path d="M427.6 831.4h8.3M427.6 677.66h8.3M427.6 523.92h8.3M427.6 370.18h8.3M427.6 216.44h8.3M427.6 62.7h8.3" stroke="#000" stroke-width="2.0" fill="none"/>
<text transform="matrix(0 0.27826 -0.22766 0 480.18 385.62)" font-family="Liberation Sans, sans-serif" font-weight="bold" font-size="100">Time (ns)</text>
<rect x="642.2" y="62.6" width="768.7" height="768.8" fill="none" stroke="#000" stroke-width="2.0"/>
<text transform="matrix(0.29634 0 0 0.24789 676.31 865.15)" font-family="Liberation Sans, sans-serif" font-weight="bold" font-size="100">−12.5</text>
<text transform="matrix(0.29714 0 0 0.24789 778.91 865.15)" font-family="Liberation Sans, sans-serif" font-weight="bold" font-size="100">−10.0</text>
<text transform="matrix(0.29319 0 0 0.25143 889.03 865.15)" font-family="Liberation Sans, sans-serif" font-weight="bold" font-size="100">−7.5</text>
<text transform="matrix(0.29894 0 0 0.24789 991.10 865.15)" font-family="Liberation Sans, sans-serif" font-weight="bold" font-size="100">−5.0</text>
<text transform="matrix(0.29215 0 0 0.24789 1094.23 865.15)" font-family="Liberation Sans, sans-serif" font-weight="bold" font-size="100">−2.5</text>
<text transform="matrix(0.29695 0 0 0.24789 1204.11 865.15)" font-family="Liberation Sans, sans-serif" font-weight="bold" font-size="100">0.0</text>
<text transform="matrix(0.28947 0 0 0.24789 1306.93 865.15)" font-family="Liberation Sans, sans-serif" font-weight="bold" font-size="100">2.5</text>
<text transform="matrix(0.28750 0 0 0.24648 609.85 154.95)" font-family="Liberation Sans, sans-serif" font-weight="bold" font-size="100">6</text>
<text transform="matrix(0.26038 0 0 0.25362 610.48 278.20)" font-family="Liberation Sans, sans-serif" font-weight="bold" font-size="100">4</text>
<text transform="matrix(0.28163 0 0 0.25000 610.16 401.20)" font-family="Liberation Sans, sans-serif" font-weight="bold" font-size="100">2</text>
<text transform="matrix(0.29362 0 0 0.24648 609.83 523.95)" font-family="Liberation Sans, sans-serif" font-weight="bold" font-size="100">0</text>
<text transform="matrix(0.30094 0 0 0.25000 591.70 647.20)" font-family="Liberation Sans, sans-serif" font-weight="bold" font-size="100">−2</text>
<text transform="matrix(0.29000 0 0 0.25362 591.74 770.20)" font-family="Liberation Sans, sans-serif" font-weight="bold" font-size="100">−4</text>
<path d="M713.08 831.4v8.3M815.4 831.4v8.3M917.73 831.4v8.3M1020.05 831.4v8.3M1122.38 831.4v8.3M1224.7 831.4v8.3M1327.03 831.4v8.3M642.2 145.9h-8.3M642.2 268.9h-8.3M642.2 391.9h-8.3M642.2 514.9h-8.3M642.2 637.9h-8.3M642.2 760.9h-8.3" stroke="#000" stroke-width="2.0" fill="none"/>
<text transform="matrix(0 -0.24783 0.25704 0 579.14 474.03)" font-family="Liberation Sans, sans-serif" font-weight="bold" font-size="100">PC2</text>
<text transform="matrix(0.25027 0 0 0.23873 1001.45 897.26)" font-family="Liberation Sans, sans-serif" font-weight="bold" font-size="100">PC1</text>
<text transform="matrix(0.57458 0 0 0.43085 566.23 36.85)" font-family="Liberation Sans, sans-serif" font-weight="bold" font-size="100">(d)</text>
</svg></body></html>
